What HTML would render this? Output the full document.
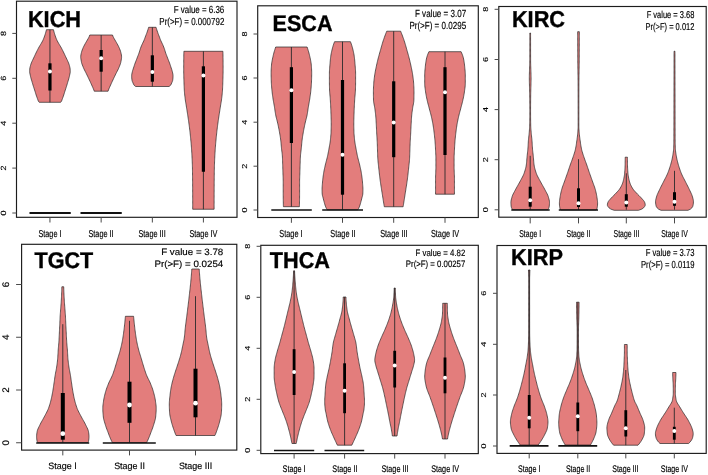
<!DOCTYPE html>
<html lang="en">
<head>
<meta charset="utf-8">
<title>Violin plots by tumor stage</title>
<style>
html,body{margin:0;padding:0;background:#fff;}
body{width:708px;height:475px;overflow:hidden;font-family:"Liberation Sans", Arial, Helvetica, sans-serif;}
svg{display:block;will-change:transform;}
svg text{text-rendering:geometricPrecision;}
</style>
</head>
<body>
<svg width="708" height="475" viewBox="0 0 708 475" font-family='"Liberation Sans", Arial, Helvetica, sans-serif'>
<rect width="708" height="475" fill="#fff"/>
<g>
<path d="M53.47 29.7 L53.75 30.93 L54.09 32.16 L54.45 33.39 L54.83 34.62 L55.23 35.85 L55.67 37.08 L56.14 38.31 L56.65 39.54 L57.22 40.77 L57.86 42.01 L58.57 43.24 L59.31 44.47 L60.06 45.7 L60.79 46.93 L61.47 48.16 L62.11 49.39 L62.74 50.62 L63.35 51.85 L63.95 53.08 L64.54 54.31 L65.11 55.54 L65.68 56.77 L66.27 58 L66.86 59.23 L67.46 60.46 L68.02 61.69 L68.54 62.92 L68.99 64.15 L69.36 65.38 L69.69 66.62 L69.98 67.85 L70.14 69.08 L70.21 70.31 L70.25 71.54 L70.17 72.77 L69.89 74 L69.63 75.23 L69.36 76.46 L69.06 77.69 L68.73 78.92 L68.37 80.15 L67.99 81.38 L67.62 82.61 L67.25 83.84 L66.89 85.07 L66.52 86.3 L66.13 87.53 L65.72 88.76 L65.31 89.99 L64.92 91.23 L64.54 92.46 L64.17 93.69 L63.78 94.92 L63.36 96.15 L62.92 97.38 L62.47 98.61 L62.03 99.84 L61.57 101.07 L60.65 102.3 L39.25 102.3 L38.33 101.07 L37.87 99.84 L37.43 98.61 L36.98 97.38 L36.54 96.15 L36.12 94.92 L35.73 93.69 L35.36 92.46 L34.98 91.23 L34.59 89.99 L34.18 88.76 L33.77 87.53 L33.38 86.3 L33.01 85.07 L32.65 83.84 L32.28 82.61 L31.91 81.38 L31.53 80.15 L31.17 78.92 L30.84 77.69 L30.54 76.46 L30.27 75.23 L30.01 74 L29.73 72.77 L29.65 71.54 L29.69 70.31 L29.76 69.08 L29.92 67.85 L30.21 66.62 L30.54 65.38 L30.91 64.15 L31.36 62.92 L31.88 61.69 L32.44 60.46 L33.04 59.23 L33.63 58 L34.22 56.77 L34.79 55.54 L35.36 54.31 L35.95 53.08 L36.55 51.85 L37.16 50.62 L37.79 49.39 L38.43 48.16 L39.11 46.93 L39.84 45.7 L40.59 44.47 L41.33 43.24 L42.04 42.01 L42.68 40.77 L43.25 39.54 L43.76 38.31 L44.23 37.08 L44.67 35.85 L45.07 34.62 L45.45 33.39 L45.81 32.16 L46.15 30.93 L46.44 29.7 Z" fill="#e37d7c" stroke="#262626" stroke-width="0.7" stroke-linejoin="round"/>
<line x1="49.95" y1="29.7" x2="49.95" y2="102.3" stroke="#2a2a2a" stroke-width="0.9"/>
<rect x="48.35" y="63.3" width="3.2" height="27.2" fill="#000"/>
<circle cx="49.95" cy="71.4" r="2" fill="#fff"/>
<line x1="29.5" y1="213" x2="70.75" y2="213" stroke="#111" stroke-width="1.9"/>
<path d="M112.5 35 L112.96 36.25 L113.57 37.5 L114.24 38.75 L114.96 40 L115.7 41.24 L116.43 42.49 L117.13 43.74 L117.81 44.99 L118.47 46.24 L119.06 47.49 L119.59 48.74 L120.09 49.99 L120.52 51.24 L120.85 52.48 L121.15 53.73 L121.4 54.98 L121.55 56.23 L121.57 57.48 L121.44 58.73 L121.22 59.98 L121.01 61.23 L120.77 62.48 L120.43 63.72 L119.97 64.97 L119.47 66.22 L118.97 67.47 L118.43 68.72 L117.83 69.97 L117.19 71.22 L116.54 72.47 L115.91 73.72 L115.31 74.96 L114.71 76.21 L114.12 77.46 L113.52 78.71 L112.93 79.96 L112.34 81.21 L111.76 82.46 L111.2 83.71 L110.64 84.96 L110.09 86.2 L109.53 87.45 L108.99 88.7 L108.47 89.95 L108.08 91.2 L94.22 91.2 L93.83 89.95 L93.31 88.7 L92.77 87.45 L92.21 86.2 L91.66 84.96 L91.1 83.71 L90.54 82.46 L89.96 81.21 L89.37 79.96 L88.78 78.71 L88.18 77.46 L87.59 76.21 L86.99 74.96 L86.39 73.72 L85.76 72.47 L85.11 71.22 L84.47 69.97 L83.87 68.72 L83.33 67.47 L82.83 66.22 L82.33 64.97 L81.87 63.72 L81.53 62.48 L81.29 61.23 L81.08 59.98 L80.86 58.73 L80.73 57.48 L80.75 56.23 L80.9 54.98 L81.15 53.73 L81.45 52.48 L81.78 51.24 L82.21 49.99 L82.71 48.74 L83.24 47.49 L83.83 46.24 L84.49 44.99 L85.17 43.74 L85.87 42.49 L86.6 41.24 L87.34 40 L88.06 38.75 L88.73 37.5 L89.34 36.25 L89.8 35 Z" fill="#e37d7c" stroke="#262626" stroke-width="0.7" stroke-linejoin="round"/>
<line x1="101.15" y1="35" x2="101.15" y2="91.2" stroke="#2a2a2a" stroke-width="0.9"/>
<rect x="99.55" y="50" width="3.2" height="21.7" fill="#000"/>
<circle cx="101.15" cy="58.3" r="2" fill="#fff"/>
<line x1="80.5" y1="213" x2="121.75" y2="213" stroke="#111" stroke-width="1.9"/>
<path d="M156.05 27.3 L156.41 28.53 L156.8 29.77 L157.21 31 L157.63 32.23 L158.07 33.47 L158.55 34.7 L159.03 35.93 L159.5 37.17 L159.95 38.4 L160.42 39.63 L160.92 40.87 L161.5 42.1 L162.11 43.33 L162.7 44.57 L163.22 45.8 L163.72 47.03 L164.19 48.27 L164.62 49.5 L164.99 50.73 L165.35 51.97 L165.75 53.2 L166.23 54.43 L166.71 55.67 L167.17 56.9 L167.64 58.13 L168.11 59.37 L168.6 60.6 L169.09 61.83 L169.57 63.07 L170 64.3 L170.41 65.53 L170.81 66.77 L171.21 68 L171.63 69.23 L172.03 70.47 L172.35 71.7 L172.63 72.93 L172.89 74.17 L173.04 75.4 L173.04 76.63 L172.97 77.87 L172.85 79.1 L172.7 80.33 L172.31 81.57 L171.77 82.8 L171.25 84.03 L170.57 85.27 L169.05 86.5 L135.65 86.5 L134.13 85.27 L133.45 84.03 L132.93 82.8 L132.39 81.57 L132 80.33 L131.85 79.1 L131.73 77.87 L131.66 76.63 L131.66 75.4 L131.81 74.17 L132.07 72.93 L132.35 71.7 L132.67 70.47 L133.07 69.23 L133.49 68 L133.89 66.77 L134.29 65.53 L134.7 64.3 L135.13 63.07 L135.61 61.83 L136.1 60.6 L136.59 59.37 L137.06 58.13 L137.53 56.9 L137.99 55.67 L138.47 54.43 L138.95 53.2 L139.35 51.97 L139.71 50.73 L140.08 49.5 L140.51 48.27 L140.98 47.03 L141.48 45.8 L142 44.57 L142.59 43.33 L143.2 42.1 L143.78 40.87 L144.28 39.63 L144.75 38.4 L145.2 37.17 L145.67 35.93 L146.15 34.7 L146.63 33.47 L147.07 32.23 L147.49 31 L147.9 29.77 L148.29 28.53 L148.65 27.3 Z" fill="#e37d7c" stroke="#262626" stroke-width="0.7" stroke-linejoin="round"/>
<line x1="152.35" y1="27.3" x2="152.35" y2="86.5" stroke="#2a2a2a" stroke-width="0.9"/>
<rect x="150.75" y="55.3" width="3.2" height="26.4" fill="#000"/>
<circle cx="152.35" cy="72" r="2" fill="#fff"/>
<path d="M222.9 51.3 L222.94 52.52 L222.97 53.73 L222.99 54.94 L223.02 56.16 L223.03 57.38 L223.05 58.59 L223.06 59.8 L223.07 61.02 L223.08 62.23 L223.09 63.45 L223.09 64.66 L223.1 65.88 L223.1 67.09 L223.1 68.31 L223.1 69.52 L223.1 70.74 L223.09 71.95 L223.07 73.17 L223.05 74.38 L223.02 75.6 L222.99 76.81 L222.95 78.03 L222.92 79.24 L222.89 80.46 L222.85 81.67 L222.81 82.89 L222.77 84.1 L222.73 85.32 L222.67 86.53 L222.62 87.75 L222.56 88.96 L222.49 90.18 L222.41 91.39 L222.31 92.61 L222.2 93.82 L222.07 95.04 L221.94 96.25 L221.8 97.47 L221.65 98.68 L221.49 99.9 L221.31 101.11 L221.12 102.33 L220.92 103.54 L220.71 104.76 L220.51 105.97 L220.32 107.19 L220.13 108.4 L219.94 109.62 L219.75 110.83 L219.56 112.05 L219.37 113.26 L219.18 114.48 L219 115.69 L218.81 116.91 L218.63 118.12 L218.46 119.34 L218.28 120.55 L218.11 121.77 L217.94 122.98 L217.78 124.2 L217.62 125.41 L217.46 126.63 L217.31 127.84 L217.16 129.06 L217.01 130.27 L216.87 131.49 L216.74 132.7 L216.61 133.92 L216.48 135.13 L216.35 136.35 L216.23 137.56 L216.11 138.78 L216 140 L215.89 141.21 L215.78 142.42 L215.67 143.64 L215.57 144.85 L215.47 146.07 L215.37 147.28 L215.29 148.5 L215.2 149.71 L215.12 150.93 L215.05 152.14 L214.97 153.36 L214.91 154.57 L214.84 155.79 L214.79 157 L214.73 158.22 L214.67 159.44 L214.62 160.65 L214.57 161.86 L214.52 163.08 L214.47 164.29 L214.43 165.51 L214.4 166.72 L214.37 167.94 L214.35 169.15 L214.33 170.37 L214.31 171.58 L214.29 172.8 L214.28 174.01 L214.26 175.23 L214.25 176.44 L214.24 177.66 L214.22 178.88 L214.21 180.09 L214.2 181.31 L214.19 182.52 L214.18 183.73 L214.18 184.95 L214.17 186.16 L214.16 187.38 L214.16 188.59 L214.15 189.81 L214.15 191.02 L214.14 192.24 L214.14 193.45 L214.13 194.67 L214.13 195.88 L214.12 197.1 L214.12 198.31 L214.12 199.53 L214.11 200.75 L214.11 201.96 L214.11 203.17 L214.1 204.39 L214.1 205.6 L214.1 206.82 L214.1 208.03 L214.1 209.25 L192.7 209.25 L192.7 208.03 L192.7 206.82 L192.7 205.6 L192.7 204.39 L192.69 203.17 L192.69 201.96 L192.69 200.75 L192.68 199.53 L192.68 198.31 L192.68 197.1 L192.67 195.88 L192.67 194.67 L192.66 193.45 L192.66 192.24 L192.65 191.02 L192.65 189.81 L192.64 188.59 L192.64 187.38 L192.63 186.16 L192.62 184.95 L192.62 183.73 L192.61 182.52 L192.6 181.31 L192.59 180.09 L192.58 178.88 L192.56 177.66 L192.55 176.44 L192.54 175.23 L192.52 174.01 L192.51 172.8 L192.49 171.58 L192.47 170.37 L192.45 169.15 L192.43 167.94 L192.4 166.72 L192.37 165.51 L192.33 164.29 L192.28 163.08 L192.23 161.86 L192.18 160.65 L192.13 159.44 L192.07 158.22 L192.01 157 L191.96 155.79 L191.89 154.57 L191.83 153.36 L191.75 152.14 L191.68 150.93 L191.6 149.71 L191.51 148.5 L191.43 147.28 L191.33 146.07 L191.23 144.85 L191.13 143.64 L191.02 142.42 L190.91 141.21 L190.8 140 L190.69 138.78 L190.57 137.56 L190.45 136.35 L190.32 135.13 L190.19 133.92 L190.06 132.7 L189.93 131.49 L189.79 130.27 L189.64 129.06 L189.49 127.84 L189.34 126.63 L189.18 125.41 L189.02 124.2 L188.86 122.98 L188.69 121.77 L188.52 120.55 L188.34 119.34 L188.17 118.12 L187.99 116.91 L187.8 115.69 L187.62 114.48 L187.43 113.26 L187.24 112.05 L187.05 110.83 L186.86 109.62 L186.67 108.4 L186.48 107.19 L186.29 105.97 L186.09 104.76 L185.88 103.54 L185.68 102.33 L185.49 101.11 L185.31 99.9 L185.15 98.68 L185 97.47 L184.86 96.25 L184.73 95.04 L184.6 93.82 L184.49 92.61 L184.39 91.39 L184.31 90.18 L184.24 88.96 L184.18 87.75 L184.13 86.53 L184.07 85.32 L184.03 84.1 L183.99 82.89 L183.95 81.67 L183.91 80.46 L183.88 79.24 L183.85 78.03 L183.81 76.81 L183.78 75.6 L183.75 74.38 L183.73 73.17 L183.71 71.95 L183.7 70.74 L183.7 69.52 L183.7 68.31 L183.7 67.09 L183.7 65.88 L183.71 64.66 L183.71 63.45 L183.72 62.23 L183.73 61.02 L183.74 59.8 L183.75 58.59 L183.77 57.38 L183.78 56.16 L183.81 54.94 L183.83 53.73 L183.86 52.52 L183.9 51.3 Z" fill="#e37d7c" stroke="#262626" stroke-width="0.7" stroke-linejoin="round"/>
<line x1="203.4" y1="51.3" x2="203.4" y2="209.25" stroke="#2a2a2a" stroke-width="0.9"/>
<rect x="201.8" y="66.3" width="3.2" height="105.45" fill="#000"/>
<circle cx="203.4" cy="75.5" r="2" fill="#fff"/>
<rect x="16.5" y="1.2" width="220.5" height="216.1" fill="none" stroke="#1c1c1c" stroke-width="1.15"/>
<line x1="12.3" y1="33.4" x2="16.5" y2="33.4" stroke="#4a4a4a" stroke-width="1"/>
<text transform="translate(6 33.4) scale(0.84 1) rotate(-90)" text-anchor="middle" font-size="9" fill="#000" stroke="#000" stroke-width="0.16">8</text>
<line x1="12.3" y1="78.3" x2="16.5" y2="78.3" stroke="#4a4a4a" stroke-width="1"/>
<text transform="translate(6 78.3) scale(0.84 1) rotate(-90)" text-anchor="middle" font-size="9" fill="#000" stroke="#000" stroke-width="0.16">6</text>
<line x1="12.3" y1="123.2" x2="16.5" y2="123.2" stroke="#4a4a4a" stroke-width="1"/>
<text transform="translate(6 123.2) scale(0.84 1) rotate(-90)" text-anchor="middle" font-size="9" fill="#000" stroke="#000" stroke-width="0.16">4</text>
<line x1="12.3" y1="168.1" x2="16.5" y2="168.1" stroke="#4a4a4a" stroke-width="1"/>
<text transform="translate(6 168.1) scale(0.84 1) rotate(-90)" text-anchor="middle" font-size="9" fill="#000" stroke="#000" stroke-width="0.16">2</text>
<line x1="12.3" y1="213" x2="16.5" y2="213" stroke="#4a4a4a" stroke-width="1"/>
<text transform="translate(6 213) scale(0.84 1) rotate(-90)" text-anchor="middle" font-size="9" fill="#000" stroke="#000" stroke-width="0.16">0</text>
<line x1="49.95" y1="217.3" x2="49.95" y2="222.5" stroke="#4a4a4a" stroke-width="1"/>
<text transform="translate(49.95 236.9) scale(0.74 1)" text-anchor="middle" font-size="9.9" fill="#000" stroke="#000" stroke-width="0.16">Stage I</text>
<line x1="101.15" y1="217.3" x2="101.15" y2="222.5" stroke="#4a4a4a" stroke-width="1"/>
<text transform="translate(101 236.9) scale(0.74 1)" text-anchor="middle" font-size="9.9" fill="#000" stroke="#000" stroke-width="0.16">Stage II</text>
<line x1="152.35" y1="217.3" x2="152.35" y2="222.5" stroke="#4a4a4a" stroke-width="1"/>
<text transform="translate(152.05 236.9) scale(0.74 1)" text-anchor="middle" font-size="9.9" fill="#000" stroke="#000" stroke-width="0.16">Stage III</text>
<line x1="203.4" y1="217.3" x2="203.4" y2="222.5" stroke="#4a4a4a" stroke-width="1"/>
<text transform="translate(203.4 236.9) scale(0.74 1)" text-anchor="middle" font-size="9.9" fill="#000" stroke="#000" stroke-width="0.16">Stage IV</text>
<text transform="translate(27.9 26.7) scale(0.98 1.03)" font-size="22.2" font-weight="bold" fill="#000" stroke="#000" stroke-width="0.35">KICH</text>
<text transform="translate(224.3 12.7) scale(0.78 1)" text-anchor="end" font-size="10.2" fill="#000" stroke="#000" stroke-width="0.16">F value = 6.36</text>
<text transform="translate(224.3 24.9) scale(0.78 1)" text-anchor="end" font-size="10.2" fill="#000" stroke="#000" stroke-width="0.16">Pr(&gt;F) = 0.000792</text>
</g>
<g>
<path d="M307.1 47 L307.51 48.21 L307.9 49.42 L308.27 50.63 L308.63 51.84 L308.96 53.05 L309.28 54.26 L309.57 55.47 L309.85 56.68 L310.11 57.89 L310.37 59.1 L310.61 60.31 L310.84 61.52 L311.04 62.73 L311.2 63.94 L311.31 65.15 L311.4 66.36 L311.48 67.57 L311.56 68.78 L311.62 69.99 L311.67 71.2 L311.69 72.41 L311.7 73.62 L311.69 74.83 L311.67 76.04 L311.64 77.25 L311.61 78.46 L311.57 79.67 L311.53 80.88 L311.49 82.09 L311.43 83.3 L311.35 84.51 L311.27 85.72 L311.17 86.92 L311.07 88.13 L310.96 89.34 L310.85 90.55 L310.72 91.76 L310.58 92.97 L310.43 94.18 L310.26 95.39 L310.09 96.6 L309.92 97.81 L309.74 99.02 L309.54 100.23 L309.33 101.44 L309.12 102.65 L308.9 103.86 L308.68 105.07 L308.47 106.28 L308.27 107.49 L308.09 108.7 L307.91 109.91 L307.74 111.12 L307.55 112.33 L307.36 113.54 L307.15 114.75 L306.9 115.96 L306.63 117.17 L306.33 118.38 L306.02 119.59 L305.7 120.8 L305.4 122.01 L305.12 123.22 L304.85 124.43 L304.59 125.64 L304.34 126.85 L304.09 128.06 L303.85 129.27 L303.62 130.48 L303.4 131.69 L303.19 132.9 L302.98 134.11 L302.78 135.32 L302.58 136.53 L302.4 137.74 L302.23 138.95 L302.08 140.16 L301.95 141.37 L301.83 142.58 L301.71 143.79 L301.61 145 L301.5 146.21 L301.39 147.42 L301.27 148.63 L301.13 149.84 L300.98 151.05 L300.83 152.26 L300.69 153.47 L300.56 154.68 L300.45 155.89 L300.38 157.1 L300.32 158.31 L300.27 159.52 L300.23 160.73 L300.19 161.94 L300.16 163.15 L300.12 164.36 L300.08 165.57 L300.04 166.77 L300.01 167.98 L299.97 169.19 L299.94 170.4 L299.9 171.61 L299.86 172.82 L299.83 174.03 L299.78 175.24 L299.73 176.45 L299.69 177.66 L299.65 178.87 L299.62 180.08 L299.6 181.29 L299.6 182.5 L299.6 183.71 L299.6 184.92 L299.6 186.13 L299.6 187.34 L299.6 188.55 L299.6 189.76 L299.6 190.97 L299.6 192.18 L299.6 193.39 L299.6 194.6 L299.59 195.81 L299.58 197.02 L299.57 198.23 L299.55 199.44 L299.53 200.65 L299.51 201.86 L299.48 203.07 L299.46 204.28 L299.43 205.49 L299.4 206.7 L283.4 206.7 L283.37 205.49 L283.34 204.28 L283.32 203.07 L283.29 201.86 L283.27 200.65 L283.25 199.44 L283.23 198.23 L283.22 197.02 L283.21 195.81 L283.2 194.6 L283.2 193.39 L283.2 192.18 L283.2 190.97 L283.2 189.76 L283.2 188.55 L283.2 187.34 L283.2 186.13 L283.2 184.92 L283.2 183.71 L283.2 182.5 L283.2 181.29 L283.18 180.08 L283.15 178.87 L283.11 177.66 L283.07 176.45 L283.02 175.24 L282.97 174.03 L282.94 172.82 L282.9 171.61 L282.86 170.4 L282.83 169.19 L282.79 167.98 L282.76 166.77 L282.72 165.57 L282.68 164.36 L282.64 163.15 L282.61 161.94 L282.57 160.73 L282.53 159.52 L282.48 158.31 L282.42 157.1 L282.35 155.89 L282.24 154.68 L282.11 153.47 L281.97 152.26 L281.82 151.05 L281.67 149.84 L281.53 148.63 L281.41 147.42 L281.3 146.21 L281.19 145 L281.09 143.79 L280.97 142.58 L280.85 141.37 L280.72 140.16 L280.57 138.95 L280.4 137.74 L280.22 136.53 L280.02 135.32 L279.82 134.11 L279.61 132.9 L279.4 131.69 L279.18 130.48 L278.95 129.27 L278.71 128.06 L278.46 126.85 L278.21 125.64 L277.95 124.43 L277.68 123.22 L277.4 122.01 L277.1 120.8 L276.78 119.59 L276.47 118.38 L276.17 117.17 L275.9 115.96 L275.65 114.75 L275.44 113.54 L275.25 112.33 L275.06 111.12 L274.89 109.91 L274.71 108.7 L274.53 107.49 L274.33 106.28 L274.12 105.07 L273.9 103.86 L273.68 102.65 L273.47 101.44 L273.26 100.23 L273.06 99.02 L272.88 97.81 L272.71 96.6 L272.54 95.39 L272.37 94.18 L272.22 92.97 L272.08 91.76 L271.95 90.55 L271.84 89.34 L271.73 88.13 L271.63 86.92 L271.53 85.72 L271.45 84.51 L271.37 83.3 L271.31 82.09 L271.27 80.88 L271.23 79.67 L271.19 78.46 L271.16 77.25 L271.13 76.04 L271.11 74.83 L271.1 73.62 L271.11 72.41 L271.13 71.2 L271.18 69.99 L271.24 68.78 L271.32 67.57 L271.4 66.36 L271.49 65.15 L271.6 63.94 L271.76 62.73 L271.96 61.52 L272.19 60.31 L272.43 59.1 L272.69 57.89 L272.95 56.68 L273.23 55.47 L273.52 54.26 L273.84 53.05 L274.17 51.84 L274.53 50.63 L274.9 49.42 L275.29 48.21 L275.7 47 Z" fill="#e37d7c" stroke="#262626" stroke-width="0.7" stroke-linejoin="round"/>
<line x1="291.4" y1="47" x2="291.4" y2="206.7" stroke="#2a2a2a" stroke-width="0.9"/>
<rect x="289.8" y="67.2" width="3.2" height="75.8" fill="#000"/>
<circle cx="291.4" cy="90.3" r="2" fill="#fff"/>
<line x1="271.3" y1="210" x2="311.8" y2="210" stroke="#111" stroke-width="1.7"/>
<path d="M350.45 41.7 L350.9 42.91 L351.33 44.12 L351.74 45.33 L352.11 46.54 L352.46 47.75 L352.76 48.96 L353.06 50.17 L353.33 51.37 L353.6 52.58 L353.83 53.79 L354.05 55 L354.23 56.21 L354.39 57.42 L354.53 58.63 L354.66 59.84 L354.78 61.05 L354.88 62.26 L354.98 63.47 L355.08 64.68 L355.17 65.89 L355.27 67.1 L355.36 68.31 L355.45 69.52 L355.53 70.72 L355.58 71.93 L355.6 73.14 L355.6 74.35 L355.6 75.56 L355.6 76.77 L355.6 77.98 L355.6 79.19 L355.6 80.4 L355.6 81.61 L355.6 82.82 L355.59 84.03 L355.57 85.24 L355.54 86.45 L355.51 87.66 L355.48 88.86 L355.45 90.07 L355.39 91.28 L355.31 92.49 L355.21 93.7 L355.09 94.91 L354.98 96.12 L354.87 97.33 L354.78 98.54 L354.7 99.75 L354.62 100.96 L354.55 102.17 L354.47 103.38 L354.41 104.59 L354.34 105.8 L354.29 107.01 L354.23 108.21 L354.19 109.42 L354.14 110.63 L354.1 111.84 L354.06 113.05 L354.02 114.26 L353.99 115.47 L353.95 116.68 L353.91 117.89 L353.87 119.1 L353.84 120.31 L353.82 121.52 L353.8 122.73 L353.8 123.94 L353.81 125.15 L353.82 126.35 L353.85 127.56 L353.87 128.77 L353.9 129.98 L353.94 131.19 L353.97 132.4 L354.03 133.61 L354.11 134.82 L354.21 136.03 L354.32 137.24 L354.44 138.45 L354.56 139.66 L354.7 140.87 L354.87 142.08 L355.05 143.29 L355.26 144.49 L355.48 145.7 L355.7 146.91 L355.92 148.12 L356.14 149.33 L356.36 150.54 L356.59 151.75 L356.82 152.96 L357.06 154.17 L357.31 155.38 L357.58 156.59 L357.85 157.8 L358.16 159.01 L358.48 160.22 L358.8 161.43 L359.12 162.64 L359.43 163.84 L359.71 165.05 L359.99 166.26 L360.26 167.47 L360.52 168.68 L360.78 169.89 L361.02 171.1 L361.24 172.31 L361.43 173.52 L361.62 174.73 L361.79 175.94 L361.96 177.15 L362.11 178.36 L362.25 179.57 L362.37 180.78 L362.47 181.98 L362.57 183.19 L362.67 184.4 L362.77 185.61 L362.85 186.82 L362.91 188.03 L362.94 189.24 L362.95 190.45 L362.92 191.66 L362.87 192.87 L362.79 194.08 L362.61 195.29 L362.3 196.5 L361.96 197.71 L361.65 198.92 L361.35 200.13 L361.04 201.33 L360.71 202.54 L360.37 203.75 L360.01 204.96 L359.62 206.17 L359.14 207.38 L358.52 208.59 L357.8 209.8 L327.2 209.8 L326.48 208.59 L325.86 207.38 L325.38 206.17 L324.99 204.96 L324.63 203.75 L324.29 202.54 L323.96 201.33 L323.65 200.13 L323.35 198.92 L323.04 197.71 L322.7 196.5 L322.39 195.29 L322.21 194.08 L322.13 192.87 L322.08 191.66 L322.05 190.45 L322.06 189.24 L322.09 188.03 L322.15 186.82 L322.23 185.61 L322.33 184.4 L322.43 183.19 L322.53 181.98 L322.63 180.78 L322.75 179.57 L322.89 178.36 L323.04 177.15 L323.21 175.94 L323.38 174.73 L323.57 173.52 L323.76 172.31 L323.98 171.1 L324.22 169.89 L324.48 168.68 L324.74 167.47 L325.01 166.26 L325.29 165.05 L325.57 163.84 L325.88 162.64 L326.2 161.43 L326.52 160.22 L326.84 159.01 L327.15 157.8 L327.42 156.59 L327.69 155.38 L327.94 154.17 L328.18 152.96 L328.41 151.75 L328.64 150.54 L328.86 149.33 L329.08 148.12 L329.3 146.91 L329.52 145.7 L329.74 144.49 L329.95 143.29 L330.13 142.08 L330.3 140.87 L330.44 139.66 L330.56 138.45 L330.68 137.24 L330.79 136.03 L330.89 134.82 L330.97 133.61 L331.03 132.4 L331.06 131.19 L331.1 129.98 L331.13 128.77 L331.15 127.56 L331.18 126.35 L331.19 125.15 L331.2 123.94 L331.2 122.73 L331.18 121.52 L331.16 120.31 L331.13 119.1 L331.09 117.89 L331.05 116.68 L331.01 115.47 L330.98 114.26 L330.94 113.05 L330.9 111.84 L330.86 110.63 L330.81 109.42 L330.77 108.21 L330.71 107.01 L330.66 105.8 L330.59 104.59 L330.53 103.38 L330.45 102.17 L330.38 100.96 L330.3 99.75 L330.22 98.54 L330.13 97.33 L330.02 96.12 L329.91 94.91 L329.79 93.7 L329.69 92.49 L329.61 91.28 L329.55 90.07 L329.52 88.86 L329.49 87.66 L329.46 86.45 L329.43 85.24 L329.41 84.03 L329.4 82.82 L329.4 81.61 L329.4 80.4 L329.4 79.19 L329.4 77.98 L329.4 76.77 L329.4 75.56 L329.4 74.35 L329.4 73.14 L329.42 71.93 L329.47 70.72 L329.55 69.52 L329.64 68.31 L329.73 67.1 L329.83 65.89 L329.92 64.68 L330.02 63.47 L330.12 62.26 L330.22 61.05 L330.34 59.84 L330.47 58.63 L330.61 57.42 L330.77 56.21 L330.95 55 L331.17 53.79 L331.4 52.58 L331.67 51.37 L331.94 50.17 L332.24 48.96 L332.54 47.75 L332.89 46.54 L333.26 45.33 L333.67 44.12 L334.1 42.91 L334.55 41.7 Z" fill="#e37d7c" stroke="#262626" stroke-width="0.7" stroke-linejoin="round"/>
<line x1="342.5" y1="41.7" x2="342.5" y2="209.8" stroke="#2a2a2a" stroke-width="0.9"/>
<rect x="340.9" y="80" width="3.2" height="114.7" fill="#000"/>
<circle cx="342.5" cy="154.7" r="2" fill="#fff"/>
<line x1="322.2" y1="210" x2="363" y2="210" stroke="#111" stroke-width="1.7"/>
<path d="M400.65 31.2 L401.14 32.41 L401.62 33.62 L402.09 34.83 L402.54 36.04 L402.98 37.25 L403.41 38.46 L403.83 39.67 L404.23 40.89 L404.63 42.1 L405 43.31 L405.36 44.52 L405.71 45.73 L406.05 46.94 L406.38 48.15 L406.72 49.36 L407.06 50.57 L407.41 51.78 L407.75 52.99 L408.1 54.2 L408.43 55.41 L408.76 56.62 L409.08 57.84 L409.39 59.05 L409.69 60.26 L409.98 61.47 L410.26 62.68 L410.54 63.89 L410.81 65.1 L411.07 66.31 L411.32 67.52 L411.57 68.73 L411.81 69.94 L412.05 71.15 L412.27 72.36 L412.48 73.57 L412.67 74.78 L412.84 76 L413.01 77.21 L413.17 78.42 L413.32 79.63 L413.45 80.84 L413.56 82.05 L413.65 83.26 L413.72 84.47 L413.79 85.68 L413.86 86.89 L413.92 88.1 L413.96 89.31 L413.99 90.52 L414 91.73 L414 92.95 L413.99 94.16 L413.98 95.37 L413.96 96.58 L413.94 97.79 L413.92 99 L413.89 100.21 L413.8 101.42 L413.64 102.63 L413.43 103.84 L413.19 105.05 L412.95 106.26 L412.73 107.47 L412.55 108.68 L412.38 109.89 L412.22 111.11 L412.06 112.32 L411.92 113.53 L411.78 114.74 L411.66 115.95 L411.56 117.16 L411.48 118.37 L411.4 119.58 L411.33 120.79 L411.26 122 L411.19 123.21 L411.13 124.42 L411.07 125.63 L411.01 126.84 L410.95 128.06 L410.89 129.27 L410.84 130.48 L410.78 131.69 L410.72 132.9 L410.65 134.11 L410.58 135.32 L410.5 136.53 L410.43 137.74 L410.35 138.95 L410.28 140.16 L410.22 141.37 L410.16 142.58 L410.11 143.79 L410.07 145 L410.03 146.22 L409.99 147.43 L409.95 148.64 L409.91 149.85 L409.86 151.06 L409.83 152.27 L409.79 153.48 L409.75 154.69 L409.71 155.9 L409.66 157.11 L409.6 158.32 L409.52 159.53 L409.42 160.74 L409.31 161.95 L409.18 163.17 L409.05 164.38 L408.92 165.59 L408.79 166.8 L408.66 168.01 L408.54 169.22 L408.41 170.43 L408.27 171.64 L408.14 172.85 L408 174.06 L407.86 175.27 L407.72 176.48 L407.57 177.69 L407.41 178.9 L407.25 180.11 L407.09 181.33 L406.91 182.54 L406.74 183.75 L406.55 184.96 L406.37 186.17 L406.18 187.38 L405.99 188.59 L405.8 189.8 L405.61 191.01 L405.42 192.22 L405.23 193.43 L405.04 194.64 L404.85 195.85 L404.66 197.06 L404.47 198.28 L404.28 199.49 L404.09 200.7 L403.89 201.91 L403.69 203.12 L403.5 204.33 L403.3 205.54 L403.1 206.75 L384.3 206.75 L384.1 205.54 L383.9 204.33 L383.71 203.12 L383.51 201.91 L383.31 200.7 L383.12 199.49 L382.93 198.28 L382.74 197.06 L382.55 195.85 L382.36 194.64 L382.17 193.43 L381.98 192.22 L381.79 191.01 L381.6 189.8 L381.41 188.59 L381.22 187.38 L381.03 186.17 L380.85 184.96 L380.66 183.75 L380.49 182.54 L380.31 181.33 L380.15 180.11 L379.99 178.9 L379.83 177.69 L379.68 176.48 L379.54 175.27 L379.4 174.06 L379.26 172.85 L379.13 171.64 L378.99 170.43 L378.86 169.22 L378.74 168.01 L378.61 166.8 L378.48 165.59 L378.35 164.38 L378.22 163.17 L378.09 161.95 L377.98 160.74 L377.88 159.53 L377.8 158.32 L377.74 157.11 L377.69 155.9 L377.65 154.69 L377.61 153.48 L377.57 152.27 L377.54 151.06 L377.49 149.85 L377.45 148.64 L377.41 147.43 L377.37 146.22 L377.33 145 L377.29 143.79 L377.24 142.58 L377.18 141.37 L377.12 140.16 L377.05 138.95 L376.97 137.74 L376.9 136.53 L376.82 135.32 L376.75 134.11 L376.68 132.9 L376.62 131.69 L376.56 130.48 L376.51 129.27 L376.45 128.06 L376.39 126.84 L376.33 125.63 L376.27 124.42 L376.21 123.21 L376.14 122 L376.07 120.79 L376 119.58 L375.92 118.37 L375.84 117.16 L375.74 115.95 L375.62 114.74 L375.48 113.53 L375.34 112.32 L375.18 111.11 L375.02 109.89 L374.85 108.68 L374.67 107.47 L374.45 106.26 L374.21 105.05 L373.97 103.84 L373.76 102.63 L373.6 101.42 L373.51 100.21 L373.48 99 L373.46 97.79 L373.44 96.58 L373.42 95.37 L373.41 94.16 L373.4 92.95 L373.4 91.73 L373.41 90.52 L373.44 89.31 L373.48 88.1 L373.54 86.89 L373.61 85.68 L373.68 84.47 L373.75 83.26 L373.84 82.05 L373.95 80.84 L374.08 79.63 L374.23 78.42 L374.39 77.21 L374.56 76 L374.73 74.78 L374.92 73.57 L375.13 72.36 L375.35 71.15 L375.59 69.94 L375.83 68.73 L376.08 67.52 L376.33 66.31 L376.59 65.1 L376.86 63.89 L377.14 62.68 L377.42 61.47 L377.71 60.26 L378.01 59.05 L378.32 57.84 L378.64 56.62 L378.97 55.41 L379.3 54.2 L379.65 52.99 L379.99 51.78 L380.34 50.57 L380.68 49.36 L381.02 48.15 L381.35 46.94 L381.69 45.73 L382.04 44.52 L382.4 43.31 L382.77 42.1 L383.17 40.89 L383.57 39.67 L383.99 38.46 L384.42 37.25 L384.86 36.04 L385.31 34.83 L385.78 33.62 L386.26 32.41 L386.75 31.2 Z" fill="#e37d7c" stroke="#262626" stroke-width="0.7" stroke-linejoin="round"/>
<line x1="393.7" y1="31.2" x2="393.7" y2="206.75" stroke="#2a2a2a" stroke-width="0.9"/>
<rect x="392.1" y="81.3" width="3.2" height="75.9" fill="#000"/>
<circle cx="393.7" cy="122.5" r="2" fill="#fff"/>
<path d="M461.1 51.7 L461.63 52.92 L462.14 54.14 L462.6 55.35 L463 56.57 L463.33 57.79 L463.6 59.01 L463.83 60.23 L464.04 61.44 L464.22 62.66 L464.39 63.88 L464.53 65.1 L464.66 66.32 L464.78 67.53 L464.9 68.75 L465.02 69.97 L465.13 71.19 L465.21 72.41 L465.27 73.62 L465.3 74.84 L465.3 76.06 L465.3 77.28 L465.3 78.49 L465.3 79.71 L465.3 80.93 L465.3 82.15 L465.3 83.37 L465.27 84.58 L465.19 85.8 L465.07 87.02 L464.92 88.24 L464.76 89.46 L464.59 90.67 L464.42 91.89 L464.25 93.11 L464.04 94.33 L463.82 95.55 L463.58 96.76 L463.33 97.98 L463.07 99.2 L462.81 100.42 L462.53 101.64 L462.23 102.85 L461.91 104.07 L461.59 105.29 L461.27 106.51 L460.95 107.73 L460.63 108.94 L460.31 110.16 L459.97 111.38 L459.64 112.6 L459.31 113.82 L459 115.03 L458.7 116.25 L458.43 117.47 L458.16 118.69 L457.9 119.91 L457.66 121.12 L457.42 122.34 L457.2 123.56 L456.99 124.78 L456.79 125.99 L456.6 127.21 L456.43 128.43 L456.26 129.65 L456.1 130.87 L455.95 132.08 L455.8 133.3 L455.66 134.52 L455.52 135.74 L455.39 136.96 L455.26 138.17 L455.15 139.39 L455.04 140.61 L454.94 141.83 L454.85 143.05 L454.77 144.26 L454.7 145.48 L454.62 146.7 L454.56 147.92 L454.49 149.14 L454.43 150.35 L454.37 151.57 L454.3 152.79 L454.23 154.01 L454.17 155.23 L454.13 156.44 L454.1 157.66 L454.1 158.88 L454.1 160.1 L454.1 161.32 L454.1 162.53 L454.1 163.75 L454.1 164.97 L454.1 166.19 L454.1 167.41 L454.12 168.62 L454.16 169.84 L454.2 171.06 L454.25 172.28 L454.3 173.49 L454.35 174.71 L454.4 175.93 L454.43 177.15 L454.45 178.37 L454.45 179.58 L454.45 180.8 L454.45 182.02 L454.45 183.24 L454.45 184.46 L454.45 185.67 L454.45 186.89 L454.45 188.11 L454.45 189.33 L454.45 190.55 L454.45 191.76 L454.45 192.98 L454.45 194.2 L435.55 194.2 L435.55 192.98 L435.55 191.76 L435.55 190.55 L435.55 189.33 L435.55 188.11 L435.55 186.89 L435.55 185.67 L435.55 184.46 L435.55 183.24 L435.55 182.02 L435.55 180.8 L435.55 179.58 L435.55 178.37 L435.57 177.15 L435.6 175.93 L435.65 174.71 L435.7 173.49 L435.75 172.28 L435.8 171.06 L435.84 169.84 L435.88 168.62 L435.9 167.41 L435.9 166.19 L435.9 164.97 L435.9 163.75 L435.9 162.53 L435.9 161.32 L435.9 160.1 L435.9 158.88 L435.9 157.66 L435.87 156.44 L435.83 155.23 L435.77 154.01 L435.7 152.79 L435.63 151.57 L435.57 150.35 L435.51 149.14 L435.44 147.92 L435.38 146.7 L435.3 145.48 L435.23 144.26 L435.15 143.05 L435.06 141.83 L434.96 140.61 L434.85 139.39 L434.74 138.17 L434.61 136.96 L434.48 135.74 L434.34 134.52 L434.2 133.3 L434.05 132.08 L433.9 130.87 L433.74 129.65 L433.57 128.43 L433.4 127.21 L433.21 125.99 L433.01 124.78 L432.8 123.56 L432.58 122.34 L432.34 121.12 L432.1 119.91 L431.84 118.69 L431.57 117.47 L431.3 116.25 L431 115.03 L430.69 113.82 L430.36 112.6 L430.03 111.38 L429.69 110.16 L429.37 108.94 L429.05 107.73 L428.73 106.51 L428.41 105.29 L428.09 104.07 L427.77 102.85 L427.47 101.64 L427.19 100.42 L426.93 99.2 L426.67 97.98 L426.42 96.76 L426.18 95.55 L425.96 94.33 L425.75 93.11 L425.58 91.89 L425.41 90.67 L425.24 89.46 L425.08 88.24 L424.93 87.02 L424.81 85.8 L424.73 84.58 L424.7 83.37 L424.7 82.15 L424.7 80.93 L424.7 79.71 L424.7 78.49 L424.7 77.28 L424.7 76.06 L424.7 74.84 L424.73 73.62 L424.79 72.41 L424.87 71.19 L424.98 69.97 L425.1 68.75 L425.22 67.53 L425.34 66.32 L425.47 65.1 L425.61 63.88 L425.78 62.66 L425.96 61.44 L426.17 60.23 L426.4 59.01 L426.67 57.79 L427 56.57 L427.4 55.35 L427.86 54.14 L428.37 52.92 L428.9 51.7 Z" fill="#e37d7c" stroke="#262626" stroke-width="0.7" stroke-linejoin="round"/>
<line x1="445" y1="51.7" x2="445" y2="194.2" stroke="#2a2a2a" stroke-width="0.9"/>
<rect x="443.4" y="67.2" width="3.2" height="87.8" fill="#000"/>
<circle cx="445" cy="92.2" r="2" fill="#fff"/>
<rect x="257.7" y="5.8" width="220.6" height="211.7" fill="none" stroke="#1c1c1c" stroke-width="1.15"/>
<line x1="253.5" y1="34" x2="257.7" y2="34" stroke="#4a4a4a" stroke-width="1"/>
<text transform="translate(247.3 34) scale(0.8 1) rotate(-90)" text-anchor="middle" font-size="9" fill="#000" stroke="#000" stroke-width="0.16">8</text>
<line x1="253.5" y1="78" x2="257.7" y2="78" stroke="#4a4a4a" stroke-width="1"/>
<text transform="translate(247.3 78) scale(0.8 1) rotate(-90)" text-anchor="middle" font-size="9" fill="#000" stroke="#000" stroke-width="0.16">6</text>
<line x1="253.5" y1="122.2" x2="257.7" y2="122.2" stroke="#4a4a4a" stroke-width="1"/>
<text transform="translate(247.3 122.2) scale(0.8 1) rotate(-90)" text-anchor="middle" font-size="9" fill="#000" stroke="#000" stroke-width="0.16">4</text>
<line x1="253.5" y1="166.2" x2="257.7" y2="166.2" stroke="#4a4a4a" stroke-width="1"/>
<text transform="translate(247.3 166.2) scale(0.8 1) rotate(-90)" text-anchor="middle" font-size="9" fill="#000" stroke="#000" stroke-width="0.16">2</text>
<line x1="253.5" y1="210" x2="257.7" y2="210" stroke="#4a4a4a" stroke-width="1"/>
<text transform="translate(247.3 210) scale(0.8 1) rotate(-90)" text-anchor="middle" font-size="9" fill="#000" stroke="#000" stroke-width="0.16">0</text>
<line x1="291.4" y1="217.5" x2="291.4" y2="222.8" stroke="#4a4a4a" stroke-width="1"/>
<text transform="translate(290.95 237) scale(0.72 1)" text-anchor="middle" font-size="10.2" fill="#000" stroke="#000" stroke-width="0.16">Stage I</text>
<line x1="342.5" y1="217.5" x2="342.5" y2="222.8" stroke="#4a4a4a" stroke-width="1"/>
<text transform="translate(342.95 237) scale(0.72 1)" text-anchor="middle" font-size="10.2" fill="#000" stroke="#000" stroke-width="0.16">Stage II</text>
<line x1="393.7" y1="217.5" x2="393.7" y2="222.8" stroke="#4a4a4a" stroke-width="1"/>
<text transform="translate(393.85 237) scale(0.72 1)" text-anchor="middle" font-size="10.2" fill="#000" stroke="#000" stroke-width="0.16">Stage III</text>
<line x1="445" y1="217.5" x2="445" y2="222.8" stroke="#4a4a4a" stroke-width="1"/>
<text transform="translate(445 237) scale(0.72 1)" text-anchor="middle" font-size="10.2" fill="#000" stroke="#000" stroke-width="0.16">Stage IV</text>
<text transform="translate(272.6 31.2) scale(0.98 1.03)" font-size="22" font-weight="bold" fill="#000" stroke="#000" stroke-width="0.35">ESCA</text>
<text transform="translate(466.1 16.7) scale(0.78 1)" text-anchor="end" font-size="10.3" fill="#000" stroke="#000" stroke-width="0.16">F value = 3.07</text>
<text transform="translate(466.1 28.7) scale(0.78 1)" text-anchor="end" font-size="10.3" fill="#000" stroke="#000" stroke-width="0.16">Pr(&gt;F) = 0.0295</text>
</g>
<g>
<path d="M530.57 33 L530.57 34.21 L530.57 35.42 L530.57 36.63 L530.57 37.84 L530.57 39.05 L530.57 40.26 L530.57 41.47 L530.58 42.68 L530.58 43.89 L530.58 45.1 L530.58 46.31 L530.58 47.52 L530.59 48.73 L530.59 49.94 L530.59 51.15 L530.59 52.36 L530.6 53.57 L530.6 54.78 L530.6 56 L530.61 57.21 L530.61 58.42 L530.61 59.63 L530.62 60.84 L530.64 62.05 L530.66 63.26 L530.7 64.47 L530.73 65.68 L530.78 66.89 L530.82 68.1 L530.87 69.31 L530.91 70.52 L530.95 71.73 L530.99 72.94 L531.03 74.15 L531.05 75.36 L531.07 76.57 L531.08 77.78 L531.08 78.99 L531.06 80.2 L531.05 81.41 L531.02 82.62 L530.99 83.83 L530.96 85.04 L530.93 86.25 L530.89 87.46 L530.85 88.67 L530.82 89.88 L530.79 91.09 L530.76 92.3 L530.73 93.51 L530.71 94.72 L530.7 95.93 L530.68 97.14 L530.67 98.35 L530.65 99.57 L530.64 100.78 L530.63 101.99 L530.62 103.2 L530.6 104.41 L530.59 105.62 L530.59 106.83 L530.58 108.04 L530.57 109.25 L530.57 110.46 L530.57 111.67 L530.57 112.88 L530.58 114.09 L530.58 115.3 L530.59 116.51 L530.6 117.72 L530.61 118.93 L530.63 120.14 L530.65 121.35 L530.67 122.56 L530.69 123.77 L530.71 124.98 L530.74 126.19 L530.8 127.4 L530.87 128.61 L530.96 129.82 L531.06 131.03 L531.16 132.24 L531.26 133.45 L531.37 134.66 L531.5 135.87 L531.65 137.08 L531.79 138.29 L531.91 139.5 L532.01 140.71 L532.09 141.92 L532.16 143.13 L532.23 144.35 L532.29 145.56 L532.36 146.77 L532.44 147.98 L532.53 149.19 L532.64 150.4 L532.77 151.61 L532.91 152.82 L533.05 154.03 L533.19 155.24 L533.32 156.45 L533.43 157.66 L533.53 158.87 L533.62 160.08 L533.71 161.29 L533.82 162.5 L533.94 163.71 L534.09 164.92 L534.28 166.13 L534.53 167.34 L534.83 168.55 L535.16 169.76 L535.53 170.97 L535.92 172.18 L536.33 173.39 L536.8 174.6 L537.35 175.81 L537.96 177.02 L538.61 178.23 L539.27 179.44 L539.94 180.65 L540.59 181.86 L541.24 183.07 L541.92 184.28 L542.61 185.49 L543.3 186.7 L543.98 187.92 L544.64 189.13 L545.27 190.34 L545.92 191.55 L546.58 192.76 L547.2 193.97 L547.76 195.18 L548.21 196.39 L548.56 197.6 L548.9 198.81 L549.2 200.02 L549.41 201.23 L549.5 202.44 L549.47 203.65 L549.4 204.86 L549.28 206.07 L549.08 207.28 L548.58 208.49 L547.9 209.7 L512.5 209.7 L511.82 208.49 L511.32 207.28 L511.12 206.07 L511 204.86 L510.93 203.65 L510.9 202.44 L510.99 201.23 L511.2 200.02 L511.5 198.81 L511.84 197.6 L512.19 196.39 L512.64 195.18 L513.2 193.97 L513.82 192.76 L514.48 191.55 L515.13 190.34 L515.76 189.13 L516.42 187.92 L517.1 186.7 L517.79 185.49 L518.48 184.28 L519.16 183.07 L519.81 181.86 L520.46 180.65 L521.13 179.44 L521.79 178.23 L522.44 177.02 L523.05 175.81 L523.6 174.6 L524.07 173.39 L524.48 172.18 L524.87 170.97 L525.24 169.76 L525.57 168.55 L525.87 167.34 L526.12 166.13 L526.31 164.92 L526.46 163.71 L526.58 162.5 L526.69 161.29 L526.78 160.08 L526.87 158.87 L526.97 157.66 L527.08 156.45 L527.21 155.24 L527.35 154.03 L527.49 152.82 L527.63 151.61 L527.76 150.4 L527.87 149.19 L527.96 147.98 L528.04 146.77 L528.11 145.56 L528.17 144.35 L528.24 143.13 L528.31 141.92 L528.39 140.71 L528.49 139.5 L528.61 138.29 L528.75 137.08 L528.9 135.87 L529.03 134.66 L529.14 133.45 L529.24 132.24 L529.34 131.03 L529.44 129.82 L529.53 128.61 L529.6 127.4 L529.66 126.19 L529.69 124.98 L529.71 123.77 L529.73 122.56 L529.75 121.35 L529.77 120.14 L529.79 118.93 L529.8 117.72 L529.81 116.51 L529.82 115.3 L529.82 114.09 L529.83 112.88 L529.83 111.67 L529.83 110.46 L529.83 109.25 L529.82 108.04 L529.81 106.83 L529.81 105.62 L529.8 104.41 L529.78 103.2 L529.77 101.99 L529.76 100.78 L529.75 99.57 L529.73 98.35 L529.72 97.14 L529.7 95.93 L529.69 94.72 L529.67 93.51 L529.64 92.3 L529.61 91.09 L529.58 89.88 L529.55 88.67 L529.51 87.46 L529.47 86.25 L529.44 85.04 L529.41 83.83 L529.38 82.62 L529.35 81.41 L529.34 80.2 L529.32 78.99 L529.32 77.78 L529.33 76.57 L529.35 75.36 L529.37 74.15 L529.41 72.94 L529.45 71.73 L529.49 70.52 L529.53 69.31 L529.58 68.1 L529.62 66.89 L529.67 65.68 L529.7 64.47 L529.74 63.26 L529.76 62.05 L529.78 60.84 L529.79 59.63 L529.79 58.42 L529.79 57.21 L529.8 56 L529.8 54.78 L529.8 53.57 L529.81 52.36 L529.81 51.15 L529.81 49.94 L529.81 48.73 L529.82 47.52 L529.82 46.31 L529.82 45.1 L529.82 43.89 L529.82 42.68 L529.83 41.47 L529.83 40.26 L529.83 39.05 L529.83 37.84 L529.83 36.63 L529.83 35.42 L529.83 34.21 L529.83 33 Z" fill="#e37d7c" stroke="#262626" stroke-width="0.7" stroke-linejoin="round"/>
<line x1="530.2" y1="155.8" x2="530.2" y2="210" stroke="#2a2a2a" stroke-width="0.9"/>
<rect x="528.7" y="186.7" width="3" height="20" fill="#000"/>
<circle cx="530.2" cy="200.3" r="2" fill="#fff"/>
<line x1="511.3" y1="210" x2="549.7" y2="210" stroke="#111" stroke-width="1.7"/>
<path d="M579.33 31.7 L579.33 32.91 L579.33 34.13 L579.33 35.34 L579.33 36.55 L579.33 37.76 L579.32 38.98 L579.32 40.19 L579.32 41.4 L579.32 42.62 L579.31 43.83 L579.31 45.04 L579.3 46.26 L579.3 47.47 L579.29 48.68 L579.29 49.89 L579.28 51.11 L579.28 52.32 L579.27 53.53 L579.27 54.75 L579.26 55.96 L579.25 57.17 L579.25 58.38 L579.24 59.6 L579.24 60.81 L579.23 62.02 L579.21 63.24 L579.2 64.45 L579.18 65.66 L579.16 66.87 L579.14 68.09 L579.12 69.3 L579.1 70.51 L579.08 71.73 L579.06 72.94 L579.04 74.15 L579.02 75.37 L579 76.58 L578.98 77.79 L578.97 79 L578.95 80.22 L578.94 81.43 L578.93 82.64 L578.92 83.86 L578.92 85.07 L578.91 86.28 L578.91 87.49 L578.91 88.71 L578.91 89.92 L578.9 91.13 L578.9 92.35 L578.9 93.56 L578.9 94.77 L578.89 95.99 L578.89 97.2 L578.89 98.41 L578.89 99.62 L578.89 100.84 L578.89 102.05 L578.88 103.26 L578.88 104.48 L578.88 105.69 L578.88 106.9 L578.88 108.11 L578.88 109.33 L578.88 110.54 L578.88 111.75 L578.87 112.97 L578.87 114.18 L578.87 115.39 L578.87 116.6 L578.87 117.82 L578.87 119.03 L578.87 120.24 L578.87 121.46 L578.87 122.67 L578.87 123.88 L578.87 125.1 L578.87 126.31 L578.9 127.52 L578.95 128.73 L579.02 129.95 L579.1 131.16 L579.2 132.37 L579.3 133.59 L579.4 134.8 L579.54 136.01 L579.69 137.22 L579.86 138.44 L580.02 139.65 L580.19 140.86 L580.36 142.08 L580.53 143.29 L580.71 144.5 L580.9 145.71 L581.11 146.93 L581.34 148.14 L581.59 149.35 L581.89 150.57 L582.21 151.78 L582.59 152.99 L582.98 154.21 L583.38 155.42 L583.78 156.63 L584.19 157.84 L584.62 159.06 L585.06 160.27 L585.51 161.48 L585.97 162.7 L586.41 163.91 L586.84 165.12 L587.26 166.33 L587.67 167.55 L588.07 168.76 L588.48 169.97 L588.88 171.19 L589.29 172.4 L589.71 173.61 L590.14 174.83 L590.57 176.04 L591.01 177.25 L591.45 178.46 L591.88 179.68 L592.31 180.89 L592.74 182.1 L593.19 183.32 L593.64 184.53 L594.09 185.74 L594.52 186.95 L594.92 188.17 L595.29 189.38 L595.6 190.59 L595.89 191.81 L596.16 193.02 L596.42 194.23 L596.65 195.44 L596.86 196.66 L597.04 197.87 L597.21 199.08 L597.37 200.3 L597.51 201.51 L597.59 202.72 L597.59 203.94 L597.53 205.15 L597.4 206.36 L597.23 207.57 L596.94 208.79 L596.2 210 L560.8 210 L560.06 208.79 L559.77 207.57 L559.6 206.36 L559.47 205.15 L559.41 203.94 L559.41 202.72 L559.49 201.51 L559.63 200.3 L559.79 199.08 L559.96 197.87 L560.14 196.66 L560.35 195.44 L560.58 194.23 L560.84 193.02 L561.11 191.81 L561.4 190.59 L561.71 189.38 L562.08 188.17 L562.48 186.95 L562.91 185.74 L563.36 184.53 L563.81 183.32 L564.26 182.1 L564.69 180.89 L565.12 179.68 L565.55 178.46 L565.99 177.25 L566.43 176.04 L566.86 174.83 L567.29 173.61 L567.71 172.4 L568.12 171.19 L568.52 169.97 L568.93 168.76 L569.33 167.55 L569.74 166.33 L570.16 165.12 L570.59 163.91 L571.03 162.7 L571.49 161.48 L571.94 160.27 L572.38 159.06 L572.81 157.84 L573.22 156.63 L573.62 155.42 L574.02 154.21 L574.41 152.99 L574.79 151.78 L575.11 150.57 L575.41 149.35 L575.66 148.14 L575.89 146.93 L576.1 145.71 L576.29 144.5 L576.47 143.29 L576.64 142.08 L576.81 140.86 L576.98 139.65 L577.14 138.44 L577.31 137.22 L577.46 136.01 L577.6 134.8 L577.7 133.59 L577.8 132.37 L577.9 131.16 L577.98 129.95 L578.05 128.73 L578.1 127.52 L578.13 126.31 L578.13 125.1 L578.13 123.88 L578.13 122.67 L578.13 121.46 L578.13 120.24 L578.13 119.03 L578.13 117.82 L578.13 116.6 L578.13 115.39 L578.13 114.18 L578.13 112.97 L578.12 111.75 L578.12 110.54 L578.12 109.33 L578.12 108.11 L578.12 106.9 L578.12 105.69 L578.12 104.48 L578.12 103.26 L578.11 102.05 L578.11 100.84 L578.11 99.62 L578.11 98.41 L578.11 97.2 L578.11 95.99 L578.1 94.77 L578.1 93.56 L578.1 92.35 L578.1 91.13 L578.09 89.92 L578.09 88.71 L578.09 87.49 L578.09 86.28 L578.08 85.07 L578.08 83.86 L578.07 82.64 L578.06 81.43 L578.05 80.22 L578.03 79 L578.02 77.79 L578 76.58 L577.98 75.37 L577.96 74.15 L577.94 72.94 L577.92 71.73 L577.9 70.51 L577.88 69.3 L577.86 68.09 L577.84 66.87 L577.82 65.66 L577.8 64.45 L577.79 63.24 L577.77 62.02 L577.76 60.81 L577.76 59.6 L577.75 58.38 L577.75 57.17 L577.74 55.96 L577.73 54.75 L577.73 53.53 L577.72 52.32 L577.72 51.11 L577.71 49.89 L577.71 48.68 L577.7 47.47 L577.7 46.26 L577.69 45.04 L577.69 43.83 L577.68 42.62 L577.68 41.4 L577.68 40.19 L577.68 38.98 L577.67 37.76 L577.67 36.55 L577.67 35.34 L577.67 34.13 L577.67 32.91 L577.67 31.7 Z" fill="#e37d7c" stroke="#262626" stroke-width="0.7" stroke-linejoin="round"/>
<line x1="578.5" y1="159.2" x2="578.5" y2="210" stroke="#2a2a2a" stroke-width="0.9"/>
<rect x="577" y="188.3" width="3" height="18.7" fill="#000"/>
<circle cx="578.5" cy="203.3" r="2" fill="#fff"/>
<line x1="558.8" y1="210" x2="598" y2="210" stroke="#111" stroke-width="1.7"/>
<path d="M627.41 157.2 L627.41 158.43 L627.42 159.67 L627.43 160.9 L627.45 162.14 L627.47 163.37 L627.49 164.61 L627.52 165.84 L627.56 167.08 L627.62 168.31 L627.69 169.55 L627.77 170.78 L627.86 172.02 L627.96 173.25 L628.09 174.49 L628.26 175.72 L628.46 176.96 L628.7 178.19 L628.97 179.43 L629.27 180.66 L629.59 181.9 L629.97 183.13 L630.46 184.37 L631.03 185.6 L631.66 186.84 L632.36 188.07 L633.18 189.31 L634.18 190.54 L635.29 191.78 L636.44 193.01 L637.6 194.25 L638.86 195.48 L640.12 196.72 L641.3 197.95 L642.38 199.19 L643.48 200.42 L644.37 201.66 L644.87 202.89 L645.17 204.13 L645.21 205.36 L644.59 206.6 L643.6 207.83 L641.85 209.07 L638.5 210.3 L614.1 210.3 L610.75 209.07 L609 207.83 L608.01 206.6 L607.39 205.36 L607.43 204.13 L607.73 202.89 L608.23 201.66 L609.12 200.42 L610.22 199.19 L611.3 197.95 L612.48 196.72 L613.74 195.48 L615 194.25 L616.16 193.01 L617.31 191.78 L618.42 190.54 L619.42 189.31 L620.24 188.07 L620.94 186.84 L621.57 185.6 L622.14 184.37 L622.63 183.13 L623.01 181.9 L623.33 180.66 L623.63 179.43 L623.9 178.19 L624.14 176.96 L624.34 175.72 L624.51 174.49 L624.64 173.25 L624.74 172.02 L624.83 170.78 L624.91 169.55 L624.98 168.31 L625.04 167.08 L625.08 165.84 L625.11 164.61 L625.13 163.37 L625.15 162.14 L625.17 160.9 L625.18 159.67 L625.19 158.43 L625.19 157.2 Z" fill="#e37d7c" stroke="#262626" stroke-width="0.7" stroke-linejoin="round"/>
<line x1="626.3" y1="173.3" x2="626.3" y2="209.7" stroke="#2a2a2a" stroke-width="0.9"/>
<rect x="624.8" y="194.2" width="3" height="12.5" fill="#000"/>
<circle cx="626.3" cy="202.5" r="2" fill="#fff"/>
<path d="M674.96 51.25 L674.96 52.46 L674.97 53.68 L674.97 54.89 L674.97 56.11 L674.97 57.32 L674.97 58.53 L674.98 59.75 L674.98 60.96 L674.98 62.18 L674.98 63.39 L674.99 64.61 L674.99 65.82 L674.99 67.03 L674.99 68.25 L674.99 69.46 L675 70.68 L675 71.89 L675 73.1 L675 74.32 L675.01 75.53 L675.01 76.75 L675.01 77.96 L675.01 79.17 L675.02 80.39 L675.02 81.6 L675.02 82.82 L675.02 84.03 L675.02 85.25 L675.03 86.46 L675.03 87.67 L675.03 88.89 L675.03 90.1 L675.04 91.32 L675.04 92.53 L675.04 93.74 L675.04 94.96 L675.05 96.17 L675.05 97.39 L675.05 98.6 L675.05 99.81 L675.06 101.03 L675.06 102.24 L675.06 103.46 L675.06 104.67 L675.07 105.89 L675.07 107.1 L675.07 108.31 L675.07 109.53 L675.07 110.74 L675.07 111.96 L675.08 113.17 L675.08 114.38 L675.08 115.6 L675.08 116.81 L675.08 118.03 L675.08 119.24 L675.09 120.45 L675.09 121.67 L675.09 122.88 L675.09 124.1 L675.1 125.31 L675.1 126.53 L675.1 127.74 L675.11 128.95 L675.11 130.17 L675.11 131.38 L675.12 132.6 L675.12 133.81 L675.13 135.02 L675.13 136.24 L675.14 137.45 L675.14 138.67 L675.15 139.88 L675.16 141.1 L675.17 142.31 L675.19 143.52 L675.22 144.74 L675.25 145.95 L675.29 147.17 L675.34 148.38 L675.41 149.59 L675.53 150.81 L675.68 152.02 L675.86 153.24 L676.06 154.45 L676.26 155.66 L676.47 156.88 L676.7 158.09 L676.96 159.31 L677.25 160.52 L677.55 161.74 L677.87 162.95 L678.2 164.16 L678.56 165.38 L678.93 166.59 L679.32 167.81 L679.72 169.02 L680.14 170.23 L680.58 171.45 L681.05 172.66 L681.54 173.88 L682.08 175.09 L682.67 176.3 L683.29 177.52 L683.92 178.73 L684.55 179.95 L685.18 181.16 L685.79 182.38 L686.41 183.59 L687.03 184.8 L687.65 186.02 L688.27 187.23 L688.86 188.45 L689.44 189.66 L690.01 190.87 L690.59 192.09 L691.16 193.3 L691.69 194.52 L692.15 195.73 L692.52 196.94 L692.85 198.16 L693.16 199.37 L693.37 200.59 L693.45 201.8 L693.39 203.02 L693.24 204.23 L693.02 205.44 L692.65 206.66 L691.85 207.87 L690.56 209.09 L688 210.3 L661 210.3 L658.44 209.09 L657.15 207.87 L656.35 206.66 L655.98 205.44 L655.76 204.23 L655.61 203.02 L655.55 201.8 L655.63 200.59 L655.84 199.37 L656.15 198.16 L656.48 196.94 L656.85 195.73 L657.31 194.52 L657.84 193.3 L658.41 192.09 L658.99 190.87 L659.56 189.66 L660.14 188.45 L660.73 187.23 L661.35 186.02 L661.97 184.8 L662.59 183.59 L663.21 182.38 L663.82 181.16 L664.45 179.95 L665.08 178.73 L665.71 177.52 L666.33 176.3 L666.92 175.09 L667.46 173.88 L667.95 172.66 L668.42 171.45 L668.86 170.23 L669.28 169.02 L669.68 167.81 L670.07 166.59 L670.44 165.38 L670.8 164.16 L671.13 162.95 L671.45 161.74 L671.75 160.52 L672.04 159.31 L672.3 158.09 L672.53 156.88 L672.74 155.66 L672.94 154.45 L673.14 153.24 L673.32 152.02 L673.47 150.81 L673.59 149.59 L673.66 148.38 L673.71 147.17 L673.75 145.95 L673.78 144.74 L673.81 143.52 L673.83 142.31 L673.84 141.1 L673.85 139.88 L673.86 138.67 L673.86 137.45 L673.87 136.24 L673.87 135.02 L673.88 133.81 L673.88 132.6 L673.89 131.38 L673.89 130.17 L673.89 128.95 L673.9 127.74 L673.9 126.53 L673.9 125.31 L673.91 124.1 L673.91 122.88 L673.91 121.67 L673.91 120.45 L673.92 119.24 L673.92 118.03 L673.92 116.81 L673.92 115.6 L673.92 114.38 L673.92 113.17 L673.93 111.96 L673.93 110.74 L673.93 109.53 L673.93 108.31 L673.93 107.1 L673.93 105.89 L673.94 104.67 L673.94 103.46 L673.94 102.24 L673.94 101.03 L673.95 99.81 L673.95 98.6 L673.95 97.39 L673.95 96.17 L673.96 94.96 L673.96 93.74 L673.96 92.53 L673.96 91.32 L673.97 90.1 L673.97 88.89 L673.97 87.67 L673.97 86.46 L673.98 85.25 L673.98 84.03 L673.98 82.82 L673.98 81.6 L673.98 80.39 L673.99 79.17 L673.99 77.96 L673.99 76.75 L673.99 75.53 L674 74.32 L674 73.1 L674 71.89 L674 70.68 L674.01 69.46 L674.01 68.25 L674.01 67.03 L674.01 65.82 L674.01 64.61 L674.02 63.39 L674.02 62.18 L674.02 60.96 L674.02 59.75 L674.03 58.53 L674.03 57.32 L674.03 56.11 L674.03 54.89 L674.03 53.68 L674.04 52.46 L674.04 51.25 Z" fill="#e37d7c" stroke="#262626" stroke-width="0.7" stroke-linejoin="round"/>
<line x1="674.5" y1="170.8" x2="674.5" y2="209.7" stroke="#2a2a2a" stroke-width="0.9"/>
<rect x="673" y="192.2" width="3" height="13.6" fill="#000"/>
<circle cx="674.5" cy="201.7" r="2" fill="#fff"/>
<rect x="498.8" y="6.5" width="207.4" height="210.7" fill="none" stroke="#1c1c1c" stroke-width="1.15"/>
<line x1="494.6" y1="9.3" x2="498.8" y2="9.3" stroke="#4a4a4a" stroke-width="1"/>
<text transform="translate(487.5 9.3) scale(0.79 1) rotate(-90)" text-anchor="middle" font-size="9" fill="#000" stroke="#000" stroke-width="0.16">8</text>
<line x1="494.6" y1="59.5" x2="498.8" y2="59.5" stroke="#4a4a4a" stroke-width="1"/>
<text transform="translate(487.5 59.5) scale(0.79 1) rotate(-90)" text-anchor="middle" font-size="9" fill="#000" stroke="#000" stroke-width="0.16">6</text>
<line x1="494.6" y1="109.6" x2="498.8" y2="109.6" stroke="#4a4a4a" stroke-width="1"/>
<text transform="translate(487.5 109.6) scale(0.79 1) rotate(-90)" text-anchor="middle" font-size="9" fill="#000" stroke="#000" stroke-width="0.16">4</text>
<line x1="494.6" y1="159.7" x2="498.8" y2="159.7" stroke="#4a4a4a" stroke-width="1"/>
<text transform="translate(487.5 159.7) scale(0.79 1) rotate(-90)" text-anchor="middle" font-size="9" fill="#000" stroke="#000" stroke-width="0.16">2</text>
<line x1="494.6" y1="209.8" x2="498.8" y2="209.8" stroke="#4a4a4a" stroke-width="1"/>
<text transform="translate(487.5 209.8) scale(0.79 1) rotate(-90)" text-anchor="middle" font-size="9" fill="#000" stroke="#000" stroke-width="0.16">0</text>
<line x1="530.2" y1="217.2" x2="530.2" y2="223.4" stroke="#4a4a4a" stroke-width="1"/>
<text transform="translate(530.2 237) scale(0.7 1)" text-anchor="middle" font-size="9.9" fill="#000" stroke="#000" stroke-width="0.16">Stage I</text>
<line x1="578.5" y1="217.2" x2="578.5" y2="223.4" stroke="#4a4a4a" stroke-width="1"/>
<text transform="translate(578.5 237) scale(0.7 1)" text-anchor="middle" font-size="9.9" fill="#000" stroke="#000" stroke-width="0.16">Stage II</text>
<line x1="626.3" y1="217.2" x2="626.3" y2="223.4" stroke="#4a4a4a" stroke-width="1"/>
<text transform="translate(626.45 237) scale(0.7 1)" text-anchor="middle" font-size="9.9" fill="#000" stroke="#000" stroke-width="0.16">Stage III</text>
<line x1="674.5" y1="217.2" x2="674.5" y2="223.4" stroke="#4a4a4a" stroke-width="1"/>
<text transform="translate(674.5 237) scale(0.7 1)" text-anchor="middle" font-size="9.9" fill="#000" stroke="#000" stroke-width="0.16">Stage IV</text>
<text transform="translate(511.9 26.6) scale(0.98 1.03)" font-size="22.2" font-weight="bold" fill="#000" stroke="#000" stroke-width="0.35">KIRC</text>
<text transform="translate(694.4 17.6) scale(0.76 1)" text-anchor="end" font-size="9.9" fill="#000" stroke="#000" stroke-width="0.16">F value = 3.68</text>
<text transform="translate(694.4 29.5) scale(0.76 1)" text-anchor="end" font-size="9.9" fill="#000" stroke="#000" stroke-width="0.16">Pr(&gt;F) = 0.012</text>
</g>
<g>
<path d="M63.72 286.75 L63.76 287.97 L63.79 289.18 L63.83 290.4 L63.88 291.62 L63.93 292.83 L63.98 294.05 L64.04 295.27 L64.1 296.48 L64.16 297.7 L64.22 298.92 L64.29 300.13 L64.36 301.35 L64.44 302.57 L64.53 303.79 L64.63 305 L64.72 306.22 L64.82 307.44 L64.91 308.65 L65 309.87 L65.09 311.09 L65.18 312.3 L65.28 313.52 L65.36 314.74 L65.44 315.95 L65.51 317.17 L65.57 318.39 L65.62 319.6 L65.67 320.82 L65.72 322.04 L65.77 323.25 L65.83 324.47 L65.89 325.69 L65.94 326.9 L66.01 328.12 L66.07 329.34 L66.13 330.55 L66.19 331.77 L66.25 332.99 L66.31 334.21 L66.37 335.42 L66.43 336.64 L66.48 337.86 L66.54 339.07 L66.61 340.29 L66.69 341.51 L66.77 342.72 L66.87 343.94 L66.98 345.16 L67.09 346.37 L67.2 347.59 L67.31 348.81 L67.4 350.02 L67.48 351.24 L67.55 352.46 L67.61 353.67 L67.68 354.89 L67.75 356.11 L67.83 357.32 L67.92 358.54 L68.03 359.76 L68.16 360.97 L68.3 362.19 L68.45 363.41 L68.61 364.62 L68.78 365.84 L68.95 367.06 L69.15 368.28 L69.37 369.49 L69.6 370.71 L69.84 371.93 L70.07 373.14 L70.29 374.36 L70.49 375.58 L70.68 376.79 L70.85 378.01 L71.02 379.23 L71.19 380.44 L71.36 381.66 L71.54 382.88 L71.72 384.09 L71.9 385.31 L72.08 386.53 L72.26 387.74 L72.45 388.96 L72.64 390.18 L72.85 391.39 L73.06 392.61 L73.29 393.83 L73.52 395.04 L73.76 396.26 L74.02 397.48 L74.29 398.7 L74.58 399.91 L74.88 401.13 L75.2 402.35 L75.54 403.56 L75.91 404.78 L76.29 406 L76.71 407.21 L77.15 408.43 L77.65 409.65 L78.21 410.86 L78.81 412.08 L79.44 413.3 L80.09 414.51 L80.74 415.73 L81.38 416.95 L82.04 418.16 L82.72 419.38 L83.41 420.6 L84.1 421.81 L84.76 423.03 L85.39 424.25 L85.97 425.46 L86.57 426.68 L87.17 427.9 L87.72 429.12 L88.17 430.33 L88.47 431.55 L88.66 432.77 L88.82 433.98 L88.94 435.2 L89 436.42 L88.97 437.63 L88.87 438.85 L88.71 440.07 L88.5 441.28 L88.1 442.5 L37.5 442.5 L37.1 441.28 L36.89 440.07 L36.73 438.85 L36.63 437.63 L36.6 436.42 L36.66 435.2 L36.78 433.98 L36.94 432.77 L37.13 431.55 L37.43 430.33 L37.88 429.12 L38.43 427.9 L39.03 426.68 L39.63 425.46 L40.21 424.25 L40.84 423.03 L41.5 421.81 L42.19 420.6 L42.88 419.38 L43.56 418.16 L44.22 416.95 L44.86 415.73 L45.51 414.51 L46.16 413.3 L46.79 412.08 L47.39 410.86 L47.95 409.65 L48.45 408.43 L48.89 407.21 L49.31 406 L49.69 404.78 L50.06 403.56 L50.4 402.35 L50.72 401.13 L51.02 399.91 L51.31 398.7 L51.58 397.48 L51.84 396.26 L52.08 395.04 L52.31 393.83 L52.54 392.61 L52.75 391.39 L52.96 390.18 L53.15 388.96 L53.34 387.74 L53.52 386.53 L53.7 385.31 L53.88 384.09 L54.06 382.88 L54.24 381.66 L54.41 380.44 L54.58 379.23 L54.75 378.01 L54.92 376.79 L55.11 375.58 L55.31 374.36 L55.53 373.14 L55.76 371.93 L56 370.71 L56.23 369.49 L56.45 368.28 L56.65 367.06 L56.82 365.84 L56.99 364.62 L57.15 363.41 L57.3 362.19 L57.44 360.97 L57.57 359.76 L57.68 358.54 L57.77 357.32 L57.85 356.11 L57.92 354.89 L57.99 353.67 L58.05 352.46 L58.12 351.24 L58.2 350.02 L58.29 348.81 L58.4 347.59 L58.51 346.37 L58.62 345.16 L58.73 343.94 L58.83 342.72 L58.91 341.51 L58.99 340.29 L59.06 339.07 L59.12 337.86 L59.17 336.64 L59.23 335.42 L59.29 334.21 L59.35 332.99 L59.41 331.77 L59.47 330.55 L59.53 329.34 L59.59 328.12 L59.66 326.9 L59.71 325.69 L59.77 324.47 L59.83 323.25 L59.88 322.04 L59.93 320.82 L59.98 319.6 L60.03 318.39 L60.09 317.17 L60.16 315.95 L60.24 314.74 L60.32 313.52 L60.42 312.3 L60.51 311.09 L60.6 309.87 L60.69 308.65 L60.78 307.44 L60.88 306.22 L60.97 305 L61.07 303.79 L61.16 302.57 L61.24 301.35 L61.31 300.13 L61.38 298.92 L61.44 297.7 L61.5 296.48 L61.56 295.27 L61.62 294.05 L61.67 292.83 L61.72 291.62 L61.77 290.4 L61.81 289.18 L61.84 287.97 L61.88 286.75 Z" fill="#e37d7c" stroke="#262626" stroke-width="0.7" stroke-linejoin="round"/>
<line x1="62.8" y1="324.2" x2="62.8" y2="442.75" stroke="#2a2a2a" stroke-width="0.9"/>
<rect x="60.8" y="393" width="4" height="46.7" fill="#000"/>
<circle cx="62.8" cy="433.7" r="2.4" fill="#fff"/>
<line x1="36.2" y1="443" x2="89.2" y2="443" stroke="#111" stroke-width="1.7"/>
<path d="M133.6 316.3 L133.71 317.51 L133.82 318.73 L133.93 319.94 L134.05 321.15 L134.17 322.37 L134.3 323.58 L134.43 324.79 L134.56 326.01 L134.7 327.22 L134.83 328.43 L134.98 329.65 L135.13 330.86 L135.29 332.07 L135.45 333.29 L135.62 334.5 L135.8 335.72 L135.98 336.93 L136.17 338.14 L136.38 339.36 L136.59 340.57 L136.82 341.78 L137.05 343 L137.31 344.21 L137.58 345.42 L137.86 346.64 L138.15 347.85 L138.46 349.06 L138.77 350.28 L139.11 351.49 L139.46 352.7 L139.84 353.92 L140.22 355.13 L140.6 356.34 L140.98 357.56 L141.34 358.77 L141.7 359.98 L142.05 361.2 L142.41 362.41 L142.76 363.62 L143.13 364.84 L143.5 366.05 L143.88 367.27 L144.26 368.48 L144.65 369.69 L145.04 370.91 L145.45 372.12 L145.87 373.33 L146.32 374.55 L146.81 375.76 L147.36 376.97 L147.95 378.19 L148.56 379.4 L149.17 380.61 L149.75 381.83 L150.29 383.04 L150.78 384.25 L151.26 385.47 L151.73 386.68 L152.18 387.89 L152.6 389.11 L152.99 390.32 L153.35 391.53 L153.69 392.75 L154.01 393.96 L154.32 395.18 L154.61 396.39 L154.87 397.6 L155.11 398.82 L155.3 400.03 L155.49 401.24 L155.67 402.46 L155.84 403.67 L155.99 404.88 L156.11 406.1 L156.18 407.31 L156.2 408.52 L156.18 409.74 L156.14 410.95 L156.07 412.16 L155.99 413.38 L155.89 414.59 L155.78 415.8 L155.67 417.02 L155.48 418.23 L155.23 419.44 L154.91 420.66 L154.56 421.87 L154.19 423.08 L153.81 424.3 L153.44 425.51 L153.05 426.73 L152.63 427.94 L152.18 429.15 L151.72 430.37 L151.25 431.58 L150.79 432.79 L150.34 434.01 L149.88 435.22 L149.41 436.43 L148.92 437.65 L148.4 438.86 L147.86 440.07 L147.29 441.29 L146.7 442.5 L112.3 442.5 L111.71 441.29 L111.14 440.07 L110.6 438.86 L110.08 437.65 L109.59 436.43 L109.12 435.22 L108.66 434.01 L108.21 432.79 L107.75 431.58 L107.28 430.37 L106.82 429.15 L106.37 427.94 L105.95 426.73 L105.56 425.51 L105.19 424.3 L104.81 423.08 L104.44 421.87 L104.09 420.66 L103.77 419.44 L103.52 418.23 L103.33 417.02 L103.22 415.8 L103.11 414.59 L103.01 413.38 L102.93 412.16 L102.86 410.95 L102.82 409.74 L102.8 408.52 L102.82 407.31 L102.89 406.1 L103.01 404.88 L103.16 403.67 L103.33 402.46 L103.51 401.24 L103.7 400.03 L103.89 398.82 L104.13 397.6 L104.39 396.39 L104.68 395.18 L104.99 393.96 L105.31 392.75 L105.65 391.53 L106.01 390.32 L106.4 389.11 L106.82 387.89 L107.27 386.68 L107.74 385.47 L108.22 384.25 L108.71 383.04 L109.25 381.83 L109.83 380.61 L110.44 379.4 L111.05 378.19 L111.64 376.97 L112.19 375.76 L112.68 374.55 L113.13 373.33 L113.55 372.12 L113.96 370.91 L114.35 369.69 L114.74 368.48 L115.12 367.27 L115.5 366.05 L115.87 364.84 L116.24 363.62 L116.59 362.41 L116.95 361.2 L117.3 359.98 L117.66 358.77 L118.02 357.56 L118.4 356.34 L118.78 355.13 L119.16 353.92 L119.54 352.7 L119.89 351.49 L120.23 350.28 L120.54 349.06 L120.85 347.85 L121.14 346.64 L121.42 345.42 L121.69 344.21 L121.95 343 L122.18 341.78 L122.41 340.57 L122.62 339.36 L122.83 338.14 L123.02 336.93 L123.2 335.72 L123.38 334.5 L123.55 333.29 L123.71 332.07 L123.87 330.86 L124.02 329.65 L124.17 328.43 L124.3 327.22 L124.44 326.01 L124.57 324.79 L124.7 323.58 L124.83 322.37 L124.95 321.15 L125.07 319.94 L125.18 318.73 L125.29 317.51 L125.4 316.3 Z" fill="#e37d7c" stroke="#262626" stroke-width="0.7" stroke-linejoin="round"/>
<line x1="129.5" y1="320.8" x2="129.5" y2="442.5" stroke="#2a2a2a" stroke-width="0.9"/>
<rect x="127.5" y="381.7" width="4" height="41.1" fill="#000"/>
<circle cx="129.5" cy="405" r="2.4" fill="#fff"/>
<line x1="102.8" y1="443" x2="155.8" y2="443" stroke="#111" stroke-width="1.7"/>
<path d="M199.2 269 L199.28 270.22 L199.37 271.43 L199.46 272.65 L199.55 273.86 L199.65 275.08 L199.74 276.29 L199.85 277.51 L199.95 278.72 L200.06 279.94 L200.18 281.15 L200.29 282.37 L200.42 283.58 L200.54 284.8 L200.67 286.01 L200.8 287.23 L200.93 288.45 L201.07 289.66 L201.2 290.88 L201.34 292.09 L201.48 293.31 L201.61 294.52 L201.75 295.74 L201.89 296.95 L202.03 298.17 L202.17 299.38 L202.31 300.6 L202.46 301.81 L202.6 303.03 L202.75 304.24 L202.9 305.46 L203.05 306.68 L203.2 307.89 L203.34 309.11 L203.49 310.32 L203.64 311.54 L203.79 312.75 L203.95 313.97 L204.1 315.18 L204.26 316.4 L204.42 317.61 L204.58 318.83 L204.74 320.04 L204.9 321.26 L205.06 322.47 L205.21 323.69 L205.36 324.91 L205.51 326.12 L205.65 327.34 L205.78 328.55 L205.91 329.77 L206.02 330.98 L206.12 332.2 L206.23 333.41 L206.34 334.63 L206.46 335.84 L206.61 337.06 L206.79 338.27 L207 339.49 L207.23 340.7 L207.48 341.92 L207.74 343.14 L208 344.35 L208.25 345.57 L208.5 346.78 L208.74 348 L208.99 349.21 L209.25 350.43 L209.51 351.64 L209.8 352.86 L210.09 354.07 L210.42 355.29 L210.76 356.5 L211.12 357.72 L211.49 358.93 L211.87 360.15 L212.25 361.36 L212.63 362.58 L213.03 363.8 L213.43 365.01 L213.84 366.23 L214.25 367.44 L214.66 368.66 L215.06 369.87 L215.45 371.09 L215.85 372.3 L216.24 373.52 L216.63 374.73 L217 375.95 L217.37 377.16 L217.71 378.38 L218.04 379.59 L218.37 380.81 L218.69 382.03 L218.99 383.24 L219.28 384.46 L219.54 385.67 L219.78 386.89 L219.99 388.1 L220.2 389.32 L220.39 390.53 L220.57 391.75 L220.73 392.96 L220.88 394.18 L221.01 395.39 L221.14 396.61 L221.27 397.82 L221.39 399.04 L221.5 400.26 L221.6 401.47 L221.66 402.69 L221.7 403.9 L221.7 405.12 L221.68 406.33 L221.65 407.55 L221.6 408.76 L221.55 409.98 L221.49 411.19 L221.42 412.41 L221.32 413.62 L221.16 414.84 L220.95 416.05 L220.69 417.27 L220.41 418.49 L220.11 419.7 L219.82 420.92 L219.52 422.13 L219.19 423.35 L218.84 424.56 L218.46 425.78 L218.07 426.99 L217.67 428.21 L217.26 429.42 L216.83 430.64 L216.39 431.85 L215.93 433.07 L215.44 434.28 L214.95 435.5 L176.05 435.5 L175.56 434.28 L175.07 433.07 L174.61 431.85 L174.17 430.64 L173.74 429.42 L173.33 428.21 L172.93 426.99 L172.54 425.78 L172.16 424.56 L171.81 423.35 L171.48 422.13 L171.18 420.92 L170.89 419.7 L170.59 418.49 L170.31 417.27 L170.05 416.05 L169.84 414.84 L169.68 413.62 L169.58 412.41 L169.51 411.19 L169.45 409.98 L169.4 408.76 L169.35 407.55 L169.32 406.33 L169.3 405.12 L169.3 403.9 L169.34 402.69 L169.4 401.47 L169.5 400.26 L169.61 399.04 L169.73 397.82 L169.86 396.61 L169.99 395.39 L170.12 394.18 L170.27 392.96 L170.43 391.75 L170.61 390.53 L170.8 389.32 L171.01 388.1 L171.22 386.89 L171.46 385.67 L171.72 384.46 L172.01 383.24 L172.31 382.03 L172.63 380.81 L172.96 379.59 L173.29 378.38 L173.63 377.16 L174 375.95 L174.37 374.73 L174.76 373.52 L175.15 372.3 L175.55 371.09 L175.94 369.87 L176.34 368.66 L176.75 367.44 L177.16 366.23 L177.57 365.01 L177.97 363.8 L178.37 362.58 L178.75 361.36 L179.13 360.15 L179.51 358.93 L179.88 357.72 L180.24 356.5 L180.58 355.29 L180.91 354.07 L181.2 352.86 L181.49 351.64 L181.75 350.43 L182.01 349.21 L182.26 348 L182.5 346.78 L182.75 345.57 L183 344.35 L183.26 343.14 L183.52 341.92 L183.77 340.7 L184 339.49 L184.21 338.27 L184.39 337.06 L184.54 335.84 L184.66 334.63 L184.77 333.41 L184.88 332.2 L184.98 330.98 L185.09 329.77 L185.22 328.55 L185.35 327.34 L185.49 326.12 L185.64 324.91 L185.79 323.69 L185.94 322.47 L186.1 321.26 L186.26 320.04 L186.42 318.83 L186.58 317.61 L186.74 316.4 L186.9 315.18 L187.05 313.97 L187.21 312.75 L187.36 311.54 L187.51 310.32 L187.66 309.11 L187.8 307.89 L187.95 306.68 L188.1 305.46 L188.25 304.24 L188.4 303.03 L188.54 301.81 L188.69 300.6 L188.83 299.38 L188.97 298.17 L189.11 296.95 L189.25 295.74 L189.39 294.52 L189.52 293.31 L189.66 292.09 L189.8 290.88 L189.93 289.66 L190.07 288.45 L190.2 287.23 L190.33 286.01 L190.46 284.8 L190.58 283.58 L190.71 282.37 L190.82 281.15 L190.94 279.94 L191.05 278.72 L191.15 277.51 L191.26 276.29 L191.35 275.08 L191.45 273.86 L191.54 272.65 L191.63 271.43 L191.72 270.22 L191.8 269 Z" fill="#e37d7c" stroke="#262626" stroke-width="0.7" stroke-linejoin="round"/>
<line x1="195.5" y1="296.2" x2="195.5" y2="435.5" stroke="#2a2a2a" stroke-width="0.9"/>
<rect x="193.5" y="368.7" width="4" height="48.6" fill="#000"/>
<circle cx="195.5" cy="403.2" r="2.4" fill="#fff"/>
<rect x="21.6" y="244.3" width="215.2" height="205.8" fill="none" stroke="#1c1c1c" stroke-width="1.15"/>
<line x1="16.1" y1="284.5" x2="21.6" y2="284.5" stroke="#4a4a4a" stroke-width="1"/>
<text transform="translate(9 284.5) scale(0.98 1) rotate(-90)" text-anchor="middle" font-size="9.8" fill="#000" stroke="#000" stroke-width="0.16">6</text>
<line x1="16.1" y1="337.25" x2="21.6" y2="337.25" stroke="#4a4a4a" stroke-width="1"/>
<text transform="translate(9 337.25) scale(0.98 1) rotate(-90)" text-anchor="middle" font-size="9.8" fill="#000" stroke="#000" stroke-width="0.16">4</text>
<line x1="16.1" y1="390" x2="21.6" y2="390" stroke="#4a4a4a" stroke-width="1"/>
<text transform="translate(9 390) scale(0.98 1) rotate(-90)" text-anchor="middle" font-size="9.8" fill="#000" stroke="#000" stroke-width="0.16">2</text>
<line x1="16.1" y1="442.75" x2="21.6" y2="442.75" stroke="#4a4a4a" stroke-width="1"/>
<text transform="translate(9 442.75) scale(0.98 1) rotate(-90)" text-anchor="middle" font-size="9.8" fill="#000" stroke="#000" stroke-width="0.16">0</text>
<line x1="62.8" y1="450.1" x2="62.8" y2="455.4" stroke="#4a4a4a" stroke-width="1"/>
<text transform="translate(62.5 469.3) scale(0.96 1)" text-anchor="middle" font-size="9.3" fill="#000" stroke="#000" stroke-width="0.16">Stage I</text>
<line x1="129.5" y1="450.1" x2="129.5" y2="455.4" stroke="#4a4a4a" stroke-width="1"/>
<text transform="translate(129.5 469.3) scale(0.96 1)" text-anchor="middle" font-size="9.3" fill="#000" stroke="#000" stroke-width="0.16">Stage II</text>
<line x1="195.5" y1="450.1" x2="195.5" y2="455.4" stroke="#4a4a4a" stroke-width="1"/>
<text transform="translate(195.5 469.3) scale(0.96 1)" text-anchor="middle" font-size="9.3" fill="#000" stroke="#000" stroke-width="0.16">Stage III</text>
<text transform="translate(34.6 267.7) scale(0.98 1.03)" font-size="22" font-weight="bold" fill="#000" stroke="#000" stroke-width="0.35">TGCT</text>
<text transform="translate(223.3 254.6) scale(1.05 1)" text-anchor="end" font-size="9.3" fill="#000" stroke="#000" stroke-width="0.16">F value = 3.78</text>
<text transform="translate(223.3 266.6) scale(1.05 1)" text-anchor="end" font-size="9.3" fill="#000" stroke="#000" stroke-width="0.16">Pr(&gt;F) = 0.0254</text>
</g>
<g>
<path d="M294.56 270.8 L294.61 272.02 L294.67 273.23 L294.73 274.45 L294.8 275.66 L294.87 276.88 L294.95 278.1 L295.04 279.31 L295.13 280.53 L295.22 281.75 L295.32 282.96 L295.42 284.18 L295.52 285.39 L295.63 286.61 L295.75 287.83 L295.88 289.04 L296.02 290.26 L296.17 291.48 L296.33 292.69 L296.5 293.91 L296.7 295.12 L296.91 296.34 L297.14 297.56 L297.39 298.77 L297.63 299.99 L297.89 301.2 L298.16 302.42 L298.44 303.64 L298.73 304.85 L299.03 306.07 L299.33 307.29 L299.63 308.5 L299.93 309.72 L300.23 310.93 L300.52 312.15 L300.81 313.37 L301.1 314.58 L301.4 315.8 L301.69 317.02 L301.98 318.23 L302.28 319.45 L302.57 320.66 L302.86 321.88 L303.15 323.1 L303.45 324.31 L303.75 325.53 L304.06 326.75 L304.38 327.96 L304.7 329.18 L305.04 330.39 L305.37 331.61 L305.7 332.83 L306.04 334.04 L306.37 335.26 L306.7 336.47 L307.02 337.69 L307.35 338.91 L307.67 340.12 L308 341.34 L308.34 342.56 L308.69 343.77 L309.04 344.99 L309.42 346.2 L309.79 347.42 L310.16 348.64 L310.53 349.85 L310.88 351.07 L311.21 352.29 L311.55 353.5 L311.89 354.72 L312.21 355.93 L312.52 357.15 L312.8 358.37 L313.03 359.58 L313.23 360.8 L313.42 362.01 L313.61 363.23 L313.78 364.45 L313.91 365.66 L314.01 366.88 L314.05 368.1 L314.05 369.31 L314.05 370.53 L314.05 371.74 L314.05 372.96 L314.05 374.18 L314.05 375.39 L314.05 376.61 L314.02 377.83 L313.93 379.04 L313.8 380.26 L313.64 381.47 L313.45 382.69 L313.26 383.91 L313.08 385.12 L312.89 386.34 L312.68 387.55 L312.45 388.77 L312.21 389.99 L311.95 391.2 L311.69 392.42 L311.43 393.64 L311.16 394.85 L310.88 396.07 L310.59 397.28 L310.29 398.5 L309.96 399.72 L309.63 400.93 L309.26 402.15 L308.86 403.37 L308.43 404.58 L307.97 405.8 L307.49 407.01 L307 408.23 L306.52 409.45 L306.03 410.66 L305.53 411.88 L305.04 413.1 L304.55 414.31 L304.06 415.53 L303.58 416.74 L303.11 417.96 L302.65 419.18 L302.21 420.39 L301.8 421.61 L301.4 422.82 L301.02 424.04 L300.65 425.26 L300.29 426.47 L299.95 427.69 L299.61 428.91 L299.28 430.12 L298.96 431.34 L298.65 432.55 L298.34 433.77 L298.05 434.99 L297.76 436.2 L297.49 437.42 L297.23 438.64 L296.97 439.85 L296.72 441.07 L296.47 442.28 L296.23 443.5 L291.97 443.5 L291.73 442.28 L291.48 441.07 L291.23 439.85 L290.97 438.64 L290.71 437.42 L290.44 436.2 L290.15 434.99 L289.86 433.77 L289.55 432.55 L289.24 431.34 L288.92 430.12 L288.59 428.91 L288.25 427.69 L287.91 426.47 L287.55 425.26 L287.18 424.04 L286.8 422.82 L286.4 421.61 L285.99 420.39 L285.55 419.18 L285.09 417.96 L284.62 416.74 L284.14 415.53 L283.65 414.31 L283.16 413.1 L282.67 411.88 L282.17 410.66 L281.68 409.45 L281.2 408.23 L280.71 407.01 L280.23 405.8 L279.77 404.58 L279.34 403.37 L278.94 402.15 L278.57 400.93 L278.24 399.72 L277.91 398.5 L277.61 397.28 L277.32 396.07 L277.04 394.85 L276.77 393.64 L276.51 392.42 L276.25 391.2 L275.99 389.99 L275.75 388.77 L275.52 387.55 L275.31 386.34 L275.12 385.12 L274.94 383.91 L274.75 382.69 L274.56 381.47 L274.4 380.26 L274.27 379.04 L274.18 377.83 L274.15 376.61 L274.15 375.39 L274.15 374.18 L274.15 372.96 L274.15 371.74 L274.15 370.53 L274.15 369.31 L274.15 368.1 L274.19 366.88 L274.29 365.66 L274.42 364.45 L274.59 363.23 L274.78 362.01 L274.97 360.8 L275.17 359.58 L275.4 358.37 L275.68 357.15 L275.99 355.93 L276.31 354.72 L276.65 353.5 L276.99 352.29 L277.32 351.07 L277.67 349.85 L278.04 348.64 L278.41 347.42 L278.78 346.2 L279.16 344.99 L279.51 343.77 L279.86 342.56 L280.2 341.34 L280.53 340.12 L280.85 338.91 L281.18 337.69 L281.5 336.47 L281.83 335.26 L282.16 334.04 L282.5 332.83 L282.83 331.61 L283.16 330.39 L283.5 329.18 L283.82 327.96 L284.14 326.75 L284.45 325.53 L284.75 324.31 L285.05 323.1 L285.34 321.88 L285.63 320.66 L285.92 319.45 L286.22 318.23 L286.51 317.02 L286.8 315.8 L287.1 314.58 L287.39 313.37 L287.68 312.15 L287.97 310.93 L288.27 309.72 L288.57 308.5 L288.87 307.29 L289.17 306.07 L289.47 304.85 L289.76 303.64 L290.04 302.42 L290.31 301.2 L290.57 299.99 L290.81 298.77 L291.06 297.56 L291.29 296.34 L291.5 295.12 L291.7 293.91 L291.87 292.69 L292.03 291.48 L292.18 290.26 L292.32 289.04 L292.45 287.83 L292.57 286.61 L292.68 285.39 L292.78 284.18 L292.88 282.96 L292.98 281.75 L293.07 280.53 L293.16 279.31 L293.25 278.1 L293.33 276.88 L293.4 275.66 L293.47 274.45 L293.53 273.23 L293.59 272.02 L293.64 270.8 Z" fill="#e37d7c" stroke="#262626" stroke-width="0.7" stroke-linejoin="round"/>
<line x1="294.1" y1="270.8" x2="294.1" y2="443.5" stroke="#2a2a2a" stroke-width="0.9"/>
<rect x="292.7" y="349.2" width="2.8" height="45.8" fill="#000"/>
<circle cx="294.1" cy="372" r="2" fill="#fff"/>
<line x1="274" y1="450.5" x2="314.2" y2="450.5" stroke="#111" stroke-width="1.7"/>
<path d="M345.99 297 L346 298.21 L346.04 299.43 L346.11 300.64 L346.19 301.86 L346.29 303.07 L346.41 304.29 L346.54 305.5 L346.68 306.72 L346.83 307.93 L346.99 309.15 L347.15 310.36 L347.36 311.58 L347.62 312.79 L347.91 314.01 L348.23 315.22 L348.58 316.44 L348.92 317.65 L349.25 318.87 L349.57 320.08 L349.9 321.3 L350.23 322.51 L350.57 323.72 L350.91 324.94 L351.25 326.15 L351.59 327.37 L351.94 328.58 L352.3 329.8 L352.65 331.01 L353.01 332.23 L353.36 333.44 L353.7 334.66 L354.05 335.87 L354.4 337.09 L354.76 338.3 L355.11 339.52 L355.44 340.73 L355.73 341.95 L355.98 343.16 L356.18 344.38 L356.35 345.59 L356.5 346.8 L356.64 348.02 L356.78 349.23 L356.93 350.45 L357.09 351.66 L357.28 352.88 L357.47 354.09 L357.67 355.31 L357.88 356.52 L358.1 357.74 L358.31 358.95 L358.53 360.17 L358.75 361.38 L358.98 362.6 L359.21 363.81 L359.44 365.03 L359.68 366.24 L359.93 367.46 L360.18 368.67 L360.45 369.89 L360.73 371.1 L361.01 372.31 L361.3 373.53 L361.58 374.74 L361.85 375.96 L362.1 377.17 L362.35 378.39 L362.6 379.6 L362.85 380.82 L363.07 382.03 L363.27 383.25 L363.44 384.46 L363.57 385.68 L363.68 386.89 L363.77 388.11 L363.86 389.32 L363.94 390.54 L364.01 391.75 L364.08 392.97 L364.15 394.18 L364.23 395.4 L364.31 396.61 L364.38 397.82 L364.44 399.04 L364.48 400.25 L364.5 401.47 L364.49 402.68 L364.45 403.9 L364.38 405.11 L364.28 406.33 L364.17 407.54 L364.04 408.76 L363.9 409.97 L363.67 411.19 L363.37 412.4 L363.11 413.62 L362.87 414.83 L362.64 416.05 L362.41 417.26 L362.17 418.48 L361.91 419.69 L361.62 420.9 L361.3 422.12 L360.95 423.33 L360.57 424.55 L360.17 425.76 L359.74 426.98 L359.31 428.19 L358.86 429.41 L358.39 430.62 L357.9 431.84 L357.38 433.05 L356.84 434.27 L356.3 435.48 L355.75 436.7 L355.21 437.91 L354.66 439.13 L354.1 440.34 L353.54 441.56 L352.96 442.77 L352.39 443.99 L351.8 445.2 L337.4 445.2 L336.81 443.99 L336.24 442.77 L335.66 441.56 L335.1 440.34 L334.54 439.13 L333.99 437.91 L333.45 436.7 L332.9 435.48 L332.36 434.27 L331.82 433.05 L331.3 431.84 L330.81 430.62 L330.34 429.41 L329.89 428.19 L329.46 426.98 L329.03 425.76 L328.63 424.55 L328.25 423.33 L327.9 422.12 L327.58 420.9 L327.29 419.69 L327.03 418.48 L326.79 417.26 L326.56 416.05 L326.33 414.83 L326.09 413.62 L325.83 412.4 L325.53 411.19 L325.3 409.97 L325.16 408.76 L325.03 407.54 L324.92 406.33 L324.82 405.11 L324.75 403.9 L324.71 402.68 L324.7 401.47 L324.72 400.25 L324.76 399.04 L324.82 397.82 L324.89 396.61 L324.97 395.4 L325.05 394.18 L325.12 392.97 L325.19 391.75 L325.26 390.54 L325.34 389.32 L325.43 388.11 L325.52 386.89 L325.63 385.68 L325.76 384.46 L325.93 383.25 L326.13 382.03 L326.35 380.82 L326.6 379.6 L326.85 378.39 L327.1 377.17 L327.35 375.96 L327.62 374.74 L327.9 373.53 L328.19 372.31 L328.47 371.1 L328.75 369.89 L329.02 368.67 L329.27 367.46 L329.52 366.24 L329.76 365.03 L329.99 363.81 L330.22 362.6 L330.45 361.38 L330.67 360.17 L330.89 358.95 L331.1 357.74 L331.32 356.52 L331.53 355.31 L331.73 354.09 L331.92 352.88 L332.11 351.66 L332.27 350.45 L332.42 349.23 L332.56 348.02 L332.7 346.8 L332.85 345.59 L333.02 344.38 L333.22 343.16 L333.47 341.95 L333.76 340.73 L334.09 339.52 L334.44 338.3 L334.8 337.09 L335.15 335.87 L335.5 334.66 L335.84 333.44 L336.19 332.23 L336.55 331.01 L336.9 329.8 L337.26 328.58 L337.61 327.37 L337.95 326.15 L338.29 324.94 L338.63 323.72 L338.97 322.51 L339.3 321.3 L339.63 320.08 L339.95 318.87 L340.28 317.65 L340.62 316.44 L340.97 315.22 L341.29 314.01 L341.58 312.79 L341.84 311.58 L342.05 310.36 L342.21 309.15 L342.37 307.93 L342.52 306.72 L342.66 305.5 L342.79 304.29 L342.91 303.07 L343.01 301.86 L343.09 300.64 L343.16 299.43 L343.2 298.21 L343.21 297 Z" fill="#e37d7c" stroke="#262626" stroke-width="0.7" stroke-linejoin="round"/>
<line x1="344.6" y1="297" x2="344.6" y2="445.2" stroke="#2a2a2a" stroke-width="0.9"/>
<rect x="343.2" y="363.3" width="2.8" height="49.9" fill="#000"/>
<circle cx="344.6" cy="390.8" r="2" fill="#fff"/>
<line x1="324.5" y1="450.5" x2="364.2" y2="450.5" stroke="#111" stroke-width="1.7"/>
<path d="M395.25 288 L395.27 289.21 L395.29 290.43 L395.34 291.64 L395.39 292.85 L395.46 294.07 L395.53 295.28 L395.61 296.49 L395.7 297.7 L395.83 298.92 L395.99 300.13 L396.17 301.34 L396.37 302.56 L396.57 303.77 L396.78 304.98 L396.99 306.2 L397.23 307.41 L397.48 308.62 L397.75 309.84 L398.03 311.05 L398.33 312.26 L398.65 313.48 L398.99 314.69 L399.35 315.9 L399.73 317.11 L400.13 318.33 L400.54 319.54 L400.96 320.75 L401.4 321.97 L401.85 323.18 L402.32 324.39 L402.8 325.61 L403.3 326.82 L403.81 328.03 L404.33 329.25 L404.85 330.46 L405.39 331.67 L405.94 332.89 L406.51 334.1 L407.07 335.31 L407.62 336.52 L408.16 337.74 L408.67 338.95 L409.19 340.16 L409.7 341.38 L410.2 342.59 L410.68 343.8 L411.13 345.02 L411.55 346.23 L411.93 347.44 L412.31 348.66 L412.67 349.87 L413.01 351.08 L413.32 352.3 L413.6 353.51 L413.85 354.72 L414.07 355.93 L414.3 357.15 L414.49 358.36 L414.59 359.57 L414.56 360.79 L414.39 362 L414.13 363.21 L413.83 364.43 L413.55 365.64 L413.22 366.85 L412.86 368.07 L412.47 369.28 L412.08 370.49 L411.7 371.7 L411.33 372.92 L410.96 374.13 L410.58 375.34 L410.21 376.56 L409.83 377.77 L409.46 378.98 L409.09 380.2 L408.72 381.41 L408.34 382.62 L407.96 383.84 L407.58 385.05 L407.22 386.26 L406.87 387.48 L406.55 388.69 L406.24 389.9 L405.94 391.11 L405.65 392.33 L405.36 393.54 L405.09 394.75 L404.81 395.97 L404.54 397.18 L404.28 398.39 L404.02 399.61 L403.76 400.82 L403.51 402.03 L403.26 403.25 L403.01 404.46 L402.76 405.67 L402.51 406.89 L402.26 408.1 L402.01 409.31 L401.76 410.52 L401.51 411.74 L401.27 412.95 L401.03 414.16 L400.8 415.38 L400.57 416.59 L400.34 417.8 L400.12 419.02 L399.89 420.23 L399.65 421.44 L399.41 422.66 L399.16 423.87 L398.9 425.08 L398.64 426.3 L398.39 427.51 L398.16 428.72 L397.95 429.93 L397.75 431.15 L397.55 432.36 L397.37 433.57 L397.19 434.79 L397.01 436 L392.39 436 L392.21 434.79 L392.03 433.57 L391.85 432.36 L391.65 431.15 L391.45 429.93 L391.24 428.72 L391.01 427.51 L390.76 426.3 L390.5 425.08 L390.24 423.87 L389.99 422.66 L389.75 421.44 L389.51 420.23 L389.28 419.02 L389.06 417.8 L388.83 416.59 L388.6 415.38 L388.37 414.16 L388.13 412.95 L387.89 411.74 L387.64 410.52 L387.39 409.31 L387.14 408.1 L386.89 406.89 L386.64 405.67 L386.39 404.46 L386.14 403.25 L385.89 402.03 L385.64 400.82 L385.38 399.61 L385.12 398.39 L384.86 397.18 L384.59 395.97 L384.31 394.75 L384.04 393.54 L383.75 392.33 L383.46 391.11 L383.16 389.9 L382.85 388.69 L382.53 387.48 L382.18 386.26 L381.82 385.05 L381.44 383.84 L381.06 382.62 L380.68 381.41 L380.31 380.2 L379.94 378.98 L379.57 377.77 L379.19 376.56 L378.82 375.34 L378.44 374.13 L378.07 372.92 L377.7 371.7 L377.32 370.49 L376.93 369.28 L376.54 368.07 L376.18 366.85 L375.85 365.64 L375.57 364.43 L375.27 363.21 L375.01 362 L374.84 360.79 L374.81 359.57 L374.91 358.36 L375.1 357.15 L375.33 355.93 L375.55 354.72 L375.8 353.51 L376.08 352.3 L376.39 351.08 L376.73 349.87 L377.09 348.66 L377.47 347.44 L377.85 346.23 L378.27 345.02 L378.72 343.8 L379.2 342.59 L379.7 341.38 L380.21 340.16 L380.73 338.95 L381.24 337.74 L381.78 336.52 L382.33 335.31 L382.89 334.1 L383.46 332.89 L384.01 331.67 L384.55 330.46 L385.07 329.25 L385.59 328.03 L386.1 326.82 L386.6 325.61 L387.08 324.39 L387.55 323.18 L388 321.97 L388.44 320.75 L388.86 319.54 L389.27 318.33 L389.67 317.11 L390.05 315.9 L390.41 314.69 L390.75 313.48 L391.07 312.26 L391.37 311.05 L391.65 309.84 L391.92 308.62 L392.17 307.41 L392.41 306.2 L392.62 304.98 L392.83 303.77 L393.03 302.56 L393.23 301.34 L393.41 300.13 L393.57 298.92 L393.7 297.7 L393.79 296.49 L393.87 295.28 L393.94 294.07 L394.01 292.85 L394.06 291.64 L394.11 290.43 L394.13 289.21 L394.14 288 Z" fill="#e37d7c" stroke="#262626" stroke-width="0.7" stroke-linejoin="round"/>
<line x1="394.7" y1="288" x2="394.7" y2="436" stroke="#2a2a2a" stroke-width="0.9"/>
<rect x="393.3" y="350.8" width="2.8" height="36.7" fill="#000"/>
<circle cx="394.7" cy="365.5" r="2" fill="#fff"/>
<path d="M447.31 303.3 L447.32 304.51 L447.33 305.72 L447.34 306.93 L447.36 308.15 L447.39 309.36 L447.42 310.57 L447.45 311.78 L447.49 312.99 L447.54 314.2 L447.64 315.42 L447.79 316.63 L447.96 317.84 L448.15 319.05 L448.36 320.26 L448.57 321.47 L448.8 322.69 L449.07 323.9 L449.38 325.11 L449.72 326.32 L450.07 327.53 L450.43 328.74 L450.79 329.96 L451.15 331.17 L451.54 332.38 L451.94 333.59 L452.35 334.8 L452.78 336.01 L453.21 337.23 L453.65 338.44 L454.11 339.65 L454.58 340.86 L455.07 342.07 L455.56 343.28 L456.06 344.49 L456.55 345.71 L457.04 346.92 L457.51 348.13 L457.99 349.34 L458.46 350.55 L458.94 351.76 L459.41 352.98 L459.88 354.19 L460.36 355.4 L460.87 356.61 L461.4 357.82 L461.93 359.03 L462.43 360.25 L462.89 361.46 L463.28 362.67 L463.59 363.88 L463.87 365.09 L464.13 366.3 L464.36 367.52 L464.57 368.73 L464.74 369.94 L464.89 371.15 L465.02 372.36 L465.13 373.57 L465.23 374.78 L465.29 376 L465.29 377.21 L465.22 378.42 L465.09 379.63 L464.9 380.84 L464.69 382.05 L464.47 383.27 L464.25 384.48 L463.99 385.69 L463.69 386.9 L463.35 388.11 L462.98 389.32 L462.55 390.54 L462.08 391.75 L461.59 392.96 L461.09 394.17 L460.6 395.38 L460.14 396.59 L459.7 397.81 L459.27 399.02 L458.84 400.23 L458.42 401.44 L458 402.65 L457.59 403.86 L457.17 405.07 L456.76 406.29 L456.36 407.5 L455.95 408.71 L455.55 409.92 L455.15 411.13 L454.76 412.34 L454.37 413.56 L453.98 414.77 L453.59 415.98 L453.2 417.19 L452.81 418.4 L452.43 419.61 L452.06 420.83 L451.7 422.04 L451.34 423.25 L450.98 424.46 L450.63 425.67 L450.28 426.88 L449.95 428.1 L449.63 429.31 L449.32 430.52 L449.02 431.73 L448.73 432.94 L448.46 434.15 L448.21 435.37 L447.96 436.58 L447.73 437.79 L447.5 439 L442.5 439 L442.27 437.79 L442.04 436.58 L441.79 435.37 L441.54 434.15 L441.27 432.94 L440.98 431.73 L440.68 430.52 L440.37 429.31 L440.05 428.1 L439.72 426.88 L439.37 425.67 L439.02 424.46 L438.66 423.25 L438.3 422.04 L437.94 420.83 L437.57 419.61 L437.19 418.4 L436.8 417.19 L436.41 415.98 L436.02 414.77 L435.63 413.56 L435.24 412.34 L434.85 411.13 L434.45 409.92 L434.05 408.71 L433.64 407.5 L433.24 406.29 L432.83 405.07 L432.41 403.86 L432 402.65 L431.58 401.44 L431.16 400.23 L430.73 399.02 L430.3 397.81 L429.86 396.59 L429.4 395.38 L428.91 394.17 L428.41 392.96 L427.92 391.75 L427.45 390.54 L427.02 389.32 L426.65 388.11 L426.31 386.9 L426.01 385.69 L425.75 384.48 L425.53 383.27 L425.31 382.05 L425.1 380.84 L424.91 379.63 L424.78 378.42 L424.71 377.21 L424.71 376 L424.77 374.78 L424.87 373.57 L424.98 372.36 L425.11 371.15 L425.26 369.94 L425.43 368.73 L425.64 367.52 L425.87 366.3 L426.13 365.09 L426.41 363.88 L426.72 362.67 L427.11 361.46 L427.57 360.25 L428.07 359.03 L428.6 357.82 L429.13 356.61 L429.64 355.4 L430.12 354.19 L430.59 352.98 L431.06 351.76 L431.54 350.55 L432.01 349.34 L432.49 348.13 L432.96 346.92 L433.45 345.71 L433.94 344.49 L434.44 343.28 L434.93 342.07 L435.42 340.86 L435.89 339.65 L436.35 338.44 L436.79 337.23 L437.22 336.01 L437.65 334.8 L438.06 333.59 L438.46 332.38 L438.85 331.17 L439.21 329.96 L439.57 328.74 L439.93 327.53 L440.28 326.32 L440.62 325.11 L440.93 323.9 L441.2 322.69 L441.43 321.47 L441.64 320.26 L441.85 319.05 L442.04 317.84 L442.21 316.63 L442.36 315.42 L442.46 314.2 L442.51 312.99 L442.55 311.78 L442.58 310.57 L442.61 309.36 L442.64 308.15 L442.66 306.93 L442.67 305.72 L442.68 304.51 L442.69 303.3 Z" fill="#e37d7c" stroke="#262626" stroke-width="0.7" stroke-linejoin="round"/>
<line x1="445" y1="303.3" x2="445" y2="439" stroke="#2a2a2a" stroke-width="0.9"/>
<rect x="443.6" y="357.5" width="2.8" height="35.8" fill="#000"/>
<circle cx="445" cy="377.8" r="2" fill="#fff"/>
<rect x="260.8" y="245.3" width="217.5" height="208.3" fill="none" stroke="#1c1c1c" stroke-width="1.15"/>
<line x1="256.6" y1="246.3" x2="260.8" y2="246.3" stroke="#4a4a4a" stroke-width="1"/>
<text transform="translate(250.2 246.3) scale(0.8 1) rotate(-90)" text-anchor="middle" font-size="9" fill="#000" stroke="#000" stroke-width="0.16">8</text>
<line x1="256.6" y1="297.3" x2="260.8" y2="297.3" stroke="#4a4a4a" stroke-width="1"/>
<text transform="translate(250.2 297.3) scale(0.8 1) rotate(-90)" text-anchor="middle" font-size="9" fill="#000" stroke="#000" stroke-width="0.16">6</text>
<line x1="256.6" y1="348.3" x2="260.8" y2="348.3" stroke="#4a4a4a" stroke-width="1"/>
<text transform="translate(250.2 348.3) scale(0.8 1) rotate(-90)" text-anchor="middle" font-size="9" fill="#000" stroke="#000" stroke-width="0.16">4</text>
<line x1="256.6" y1="399.3" x2="260.8" y2="399.3" stroke="#4a4a4a" stroke-width="1"/>
<text transform="translate(250.2 399.3) scale(0.8 1) rotate(-90)" text-anchor="middle" font-size="9" fill="#000" stroke="#000" stroke-width="0.16">2</text>
<line x1="256.6" y1="450.3" x2="260.8" y2="450.3" stroke="#4a4a4a" stroke-width="1"/>
<text transform="translate(250.2 450.3) scale(0.8 1) rotate(-90)" text-anchor="middle" font-size="9" fill="#000" stroke="#000" stroke-width="0.16">0</text>
<line x1="294.1" y1="453.6" x2="294.1" y2="458.6" stroke="#4a4a4a" stroke-width="1"/>
<text transform="translate(294.1 472.3) scale(0.75 1)" text-anchor="middle" font-size="9.7" fill="#000" stroke="#000" stroke-width="0.16">Stage I</text>
<line x1="344.6" y1="453.6" x2="344.6" y2="458.6" stroke="#4a4a4a" stroke-width="1"/>
<text transform="translate(344.9 472.3) scale(0.75 1)" text-anchor="middle" font-size="9.7" fill="#000" stroke="#000" stroke-width="0.16">Stage II</text>
<line x1="394.7" y1="453.6" x2="394.7" y2="458.6" stroke="#4a4a4a" stroke-width="1"/>
<text transform="translate(395 472.3) scale(0.75 1)" text-anchor="middle" font-size="9.7" fill="#000" stroke="#000" stroke-width="0.16">Stage III</text>
<line x1="445" y1="453.6" x2="445" y2="458.6" stroke="#4a4a4a" stroke-width="1"/>
<text transform="translate(445.15 472.3) scale(0.75 1)" text-anchor="middle" font-size="9.7" fill="#000" stroke="#000" stroke-width="0.16">Stage IV</text>
<text transform="translate(269.8 267.6) scale(0.98 1.03)" font-size="22.1" font-weight="bold" fill="#000" stroke="#000" stroke-width="0.35">THCA</text>
<text transform="translate(465.3 256.1) scale(0.84 1)" text-anchor="end" font-size="9.3" fill="#000" stroke="#000" stroke-width="0.16">F value = 4.82</text>
<text transform="translate(465.3 267.3) scale(0.84 1)" text-anchor="end" font-size="9.3" fill="#000" stroke="#000" stroke-width="0.16">Pr(&gt;F) = 0.00257</text>
</g>
<g>
<path d="M529.94 270 L529.89 271.22 L529.84 272.43 L529.79 273.65 L529.74 274.86 L529.69 276.08 L529.65 277.29 L529.63 278.51 L529.62 279.72 L529.62 280.94 L529.62 282.15 L529.62 283.37 L529.62 284.58 L529.62 285.8 L529.62 287.01 L529.62 288.23 L529.62 289.44 L529.62 290.66 L529.62 291.88 L529.62 293.09 L529.62 294.31 L529.62 295.52 L529.62 296.74 L529.62 297.95 L529.62 299.17 L529.62 300.38 L529.62 301.6 L529.62 302.81 L529.62 304.03 L529.63 305.24 L529.63 306.46 L529.63 307.67 L529.63 308.89 L529.63 310.1 L529.63 311.32 L529.63 312.53 L529.63 313.75 L529.64 314.97 L529.64 316.18 L529.64 317.4 L529.64 318.61 L529.64 319.83 L529.64 321.04 L529.65 322.26 L529.65 323.47 L529.65 324.69 L529.65 325.9 L529.65 327.12 L529.66 328.33 L529.66 329.55 L529.66 330.76 L529.66 331.98 L529.67 333.19 L529.69 334.41 L529.71 335.62 L529.73 336.84 L529.77 338.06 L529.81 339.27 L529.85 340.49 L529.9 341.7 L529.95 342.92 L530 344.13 L530.06 345.35 L530.12 346.56 L530.19 347.78 L530.26 348.99 L530.35 350.21 L530.47 351.42 L530.61 352.64 L530.76 353.85 L530.92 355.07 L531.09 356.28 L531.26 357.5 L531.46 358.72 L531.68 359.93 L531.92 361.15 L532.16 362.36 L532.4 363.58 L532.63 364.79 L532.85 366.01 L533.08 367.22 L533.32 368.44 L533.55 369.65 L533.79 370.87 L534.04 372.08 L534.3 373.3 L534.57 374.51 L534.85 375.73 L535.13 376.94 L535.42 378.16 L535.72 379.38 L536.02 380.59 L536.33 381.81 L536.63 383.02 L536.94 384.24 L537.26 385.45 L537.58 386.67 L537.9 387.88 L538.24 389.1 L538.59 390.31 L538.95 391.53 L539.32 392.74 L539.7 393.96 L540.09 395.17 L540.49 396.39 L540.91 397.6 L541.34 398.82 L541.81 400.03 L542.31 401.25 L542.82 402.47 L543.33 403.68 L543.83 404.9 L544.29 406.11 L544.72 407.33 L545.13 408.54 L545.55 409.76 L545.94 410.97 L546.31 412.19 L546.64 413.4 L546.92 414.62 L547.17 415.83 L547.42 417.05 L547.65 418.26 L547.84 419.48 L547.96 420.69 L548 421.91 L547.96 423.12 L547.86 424.34 L547.72 425.56 L547.55 426.77 L547.35 427.99 L547.1 429.2 L546.69 430.42 L546.17 431.63 L545.58 432.85 L544.97 434.06 L544.36 435.28 L543.73 436.49 L543.04 437.71 L542.31 438.92 L541.56 440.14 L540.78 441.35 L539.96 442.57 L539.1 443.78 L538.2 445 L520.2 445 L519.3 443.78 L518.44 442.57 L517.62 441.35 L516.84 440.14 L516.09 438.92 L515.36 437.71 L514.67 436.49 L514.04 435.28 L513.43 434.06 L512.82 432.85 L512.23 431.63 L511.71 430.42 L511.3 429.2 L511.05 427.99 L510.85 426.77 L510.68 425.56 L510.54 424.34 L510.44 423.12 L510.4 421.91 L510.44 420.69 L510.56 419.48 L510.75 418.26 L510.98 417.05 L511.23 415.83 L511.48 414.62 L511.76 413.4 L512.09 412.19 L512.46 410.97 L512.85 409.76 L513.27 408.54 L513.68 407.33 L514.11 406.11 L514.57 404.9 L515.07 403.68 L515.58 402.47 L516.09 401.25 L516.59 400.03 L517.06 398.82 L517.49 397.6 L517.91 396.39 L518.31 395.17 L518.7 393.96 L519.08 392.74 L519.45 391.53 L519.81 390.31 L520.16 389.1 L520.5 387.88 L520.82 386.67 L521.14 385.45 L521.46 384.24 L521.77 383.02 L522.07 381.81 L522.38 380.59 L522.68 379.38 L522.98 378.16 L523.27 376.94 L523.55 375.73 L523.83 374.51 L524.1 373.3 L524.36 372.08 L524.61 370.87 L524.85 369.65 L525.08 368.44 L525.32 367.22 L525.55 366.01 L525.77 364.79 L526 363.58 L526.24 362.36 L526.48 361.15 L526.72 359.93 L526.94 358.72 L527.14 357.5 L527.31 356.28 L527.48 355.07 L527.64 353.85 L527.79 352.64 L527.93 351.42 L528.05 350.21 L528.14 348.99 L528.21 347.78 L528.28 346.56 L528.34 345.35 L528.4 344.13 L528.45 342.92 L528.5 341.7 L528.55 340.49 L528.59 339.27 L528.63 338.06 L528.67 336.84 L528.69 335.62 L528.71 334.41 L528.73 333.19 L528.74 331.98 L528.74 330.76 L528.74 329.55 L528.74 328.33 L528.75 327.12 L528.75 325.9 L528.75 324.69 L528.75 323.47 L528.75 322.26 L528.76 321.04 L528.76 319.83 L528.76 318.61 L528.76 317.4 L528.76 316.18 L528.76 314.97 L528.77 313.75 L528.77 312.53 L528.77 311.32 L528.77 310.1 L528.77 308.89 L528.77 307.67 L528.77 306.46 L528.77 305.24 L528.78 304.03 L528.78 302.81 L528.78 301.6 L528.78 300.38 L528.78 299.17 L528.78 297.95 L528.78 296.74 L528.78 295.52 L528.78 294.31 L528.78 293.09 L528.78 291.88 L528.78 290.66 L528.78 289.44 L528.78 288.23 L528.78 287.01 L528.78 285.8 L528.78 284.58 L528.78 283.37 L528.78 282.15 L528.78 280.94 L528.78 279.72 L528.77 278.51 L528.75 277.29 L528.71 276.08 L528.66 274.86 L528.61 273.65 L528.56 272.43 L528.51 271.22 L528.46 270 Z" fill="#e37d7c" stroke="#262626" stroke-width="0.7" stroke-linejoin="round"/>
<line x1="529.2" y1="270" x2="529.2" y2="445" stroke="#2a2a2a" stroke-width="0.9"/>
<rect x="527.8" y="395" width="2.8" height="33.3" fill="#000"/>
<circle cx="529.2" cy="417.8" r="2" fill="#fff"/>
<line x1="509.7" y1="445.8" x2="548.5" y2="445.8" stroke="#111" stroke-width="1.8"/>
<path d="M579.09 302.2 L579.08 303.41 L579.07 304.62 L579.06 305.83 L579.04 307.04 L579.02 308.25 L579.01 309.46 L578.99 310.67 L578.97 311.88 L578.94 313.09 L578.92 314.3 L578.9 315.51 L578.87 316.72 L578.83 317.93 L578.79 319.14 L578.75 320.35 L578.71 321.56 L578.66 322.77 L578.62 323.98 L578.57 325.19 L578.54 326.4 L578.5 327.61 L578.48 328.82 L578.46 330.03 L578.45 331.24 L578.45 332.45 L578.45 333.66 L578.45 334.87 L578.45 336.08 L578.46 337.29 L578.46 338.51 L578.47 339.72 L578.48 340.93 L578.48 342.14 L578.49 343.35 L578.5 344.56 L578.51 345.77 L578.53 346.98 L578.54 348.19 L578.56 349.4 L578.6 350.61 L578.65 351.82 L578.71 353.03 L578.78 354.24 L578.86 355.45 L578.95 356.66 L579.07 357.87 L579.22 359.08 L579.4 360.29 L579.62 361.5 L579.84 362.71 L580.08 363.92 L580.32 365.13 L580.58 366.34 L580.86 367.55 L581.17 368.76 L581.49 369.97 L581.85 371.18 L582.22 372.39 L582.59 373.6 L582.98 374.81 L583.37 376.02 L583.78 377.23 L584.2 378.44 L584.64 379.65 L585.08 380.86 L585.54 382.07 L586.03 383.28 L586.53 384.49 L587.05 385.7 L587.58 386.91 L588.1 388.12 L588.62 389.33 L589.13 390.54 L589.63 391.75 L590.15 392.96 L590.66 394.17 L591.15 395.38 L591.63 396.59 L592.08 397.8 L592.49 399.01 L592.89 400.22 L593.28 401.43 L593.65 402.64 L594.01 403.85 L594.34 405.06 L594.65 406.27 L594.94 407.48 L595.23 408.69 L595.52 409.91 L595.78 411.12 L596.02 412.33 L596.22 413.54 L596.38 414.75 L596.49 415.96 L596.59 417.17 L596.69 418.38 L596.77 419.59 L596.84 420.8 L596.88 422.01 L596.9 423.22 L596.88 424.43 L596.82 425.64 L596.72 426.85 L596.6 428.06 L596.45 429.27 L596.28 430.48 L596.1 431.69 L595.86 432.9 L595.51 434.11 L595.09 435.32 L594.62 436.53 L594.13 437.74 L593.63 438.95 L593.08 440.16 L592.47 441.37 L591.82 442.58 L591.13 443.79 L590.4 445 L565.2 445 L564.47 443.79 L563.78 442.58 L563.13 441.37 L562.52 440.16 L561.97 438.95 L561.47 437.74 L560.98 436.53 L560.51 435.32 L560.09 434.11 L559.74 432.9 L559.5 431.69 L559.32 430.48 L559.15 429.27 L559 428.06 L558.88 426.85 L558.78 425.64 L558.72 424.43 L558.7 423.22 L558.72 422.01 L558.76 420.8 L558.83 419.59 L558.91 418.38 L559.01 417.17 L559.11 415.96 L559.22 414.75 L559.38 413.54 L559.58 412.33 L559.82 411.12 L560.08 409.91 L560.37 408.69 L560.66 407.48 L560.95 406.27 L561.26 405.06 L561.59 403.85 L561.95 402.64 L562.32 401.43 L562.71 400.22 L563.11 399.01 L563.52 397.8 L563.97 396.59 L564.45 395.38 L564.94 394.17 L565.45 392.96 L565.97 391.75 L566.47 390.54 L566.98 389.33 L567.5 388.12 L568.02 386.91 L568.55 385.7 L569.07 384.49 L569.57 383.28 L570.06 382.07 L570.52 380.86 L570.96 379.65 L571.4 378.44 L571.82 377.23 L572.23 376.02 L572.62 374.81 L573.01 373.6 L573.38 372.39 L573.75 371.18 L574.11 369.97 L574.43 368.76 L574.74 367.55 L575.02 366.34 L575.28 365.13 L575.52 363.92 L575.76 362.71 L575.98 361.5 L576.2 360.29 L576.38 359.08 L576.53 357.87 L576.65 356.66 L576.74 355.45 L576.82 354.24 L576.89 353.03 L576.95 351.82 L577 350.61 L577.04 349.4 L577.06 348.19 L577.07 346.98 L577.09 345.77 L577.1 344.56 L577.11 343.35 L577.12 342.14 L577.12 340.93 L577.13 339.72 L577.14 338.51 L577.14 337.29 L577.15 336.08 L577.15 334.87 L577.15 333.66 L577.15 332.45 L577.15 331.24 L577.14 330.03 L577.12 328.82 L577.1 327.61 L577.06 326.4 L577.03 325.19 L576.98 323.98 L576.94 322.77 L576.89 321.56 L576.85 320.35 L576.81 319.14 L576.77 317.93 L576.73 316.72 L576.7 315.51 L576.68 314.3 L576.66 313.09 L576.63 311.88 L576.61 310.67 L576.59 309.46 L576.58 308.25 L576.56 307.04 L576.54 305.83 L576.53 304.62 L576.52 303.41 L576.5 302.2 Z" fill="#e37d7c" stroke="#262626" stroke-width="0.7" stroke-linejoin="round"/>
<line x1="577.8" y1="302.2" x2="577.8" y2="445" stroke="#2a2a2a" stroke-width="0.9"/>
<rect x="576.4" y="402.5" width="2.8" height="28.7" fill="#000"/>
<circle cx="577.8" cy="416.2" r="2" fill="#fff"/>
<line x1="558.3" y1="445.8" x2="597.2" y2="445.8" stroke="#111" stroke-width="1.8"/>
<path d="M627.19 344.5 L627.19 345.73 L627.19 346.96 L627.19 348.18 L627.19 349.41 L627.19 350.64 L627.19 351.87 L627.2 353.1 L627.23 354.32 L627.27 355.55 L627.32 356.78 L627.38 358.01 L627.43 359.24 L627.48 360.46 L627.53 361.69 L627.59 362.92 L627.64 364.15 L627.71 365.38 L627.77 366.6 L627.85 367.83 L627.94 369.06 L628.04 370.29 L628.15 371.52 L628.28 372.75 L628.42 373.97 L628.57 375.2 L628.72 376.43 L628.89 377.66 L629.09 378.89 L629.3 380.11 L629.53 381.34 L629.78 382.57 L630.04 383.8 L630.31 385.03 L630.57 386.25 L630.85 387.48 L631.14 388.71 L631.44 389.94 L631.75 391.17 L632.06 392.39 L632.39 393.62 L632.7 394.85 L633.02 396.08 L633.35 397.31 L633.7 398.53 L634.09 399.76 L634.52 400.99 L635.04 402.22 L635.73 403.45 L636.38 404.67 L636.95 405.9 L637.49 407.13 L638.01 408.36 L638.51 409.59 L639.02 410.81 L639.52 412.04 L640.05 413.27 L640.61 414.5 L641.18 415.73 L641.75 416.95 L642.29 418.18 L642.78 419.41 L643.2 420.64 L643.55 421.87 L643.9 423.1 L644.22 424.32 L644.49 425.55 L644.66 426.78 L644.7 428.01 L644.67 429.24 L644.6 430.46 L644.5 431.69 L644.37 432.92 L644.22 434.15 L643.97 435.38 L643.52 436.6 L642.95 437.83 L642.32 439.06 L641.66 440.29 L640.89 441.52 L640.01 442.74 L639.05 443.97 L638 445.2 L613.6 445.2 L612.55 443.97 L611.59 442.74 L610.71 441.52 L609.94 440.29 L609.28 439.06 L608.65 437.83 L608.08 436.6 L607.63 435.38 L607.38 434.15 L607.23 432.92 L607.1 431.69 L607 430.46 L606.93 429.24 L606.9 428.01 L606.94 426.78 L607.11 425.55 L607.38 424.32 L607.7 423.1 L608.05 421.87 L608.4 420.64 L608.82 419.41 L609.31 418.18 L609.85 416.95 L610.42 415.73 L610.99 414.5 L611.55 413.27 L612.08 412.04 L612.58 410.81 L613.09 409.59 L613.59 408.36 L614.11 407.13 L614.65 405.9 L615.22 404.67 L615.87 403.45 L616.56 402.22 L617.08 400.99 L617.51 399.76 L617.9 398.53 L618.25 397.31 L618.58 396.08 L618.9 394.85 L619.21 393.62 L619.54 392.39 L619.85 391.17 L620.16 389.94 L620.46 388.71 L620.75 387.48 L621.03 386.25 L621.29 385.03 L621.56 383.8 L621.82 382.57 L622.07 381.34 L622.3 380.11 L622.51 378.89 L622.71 377.66 L622.88 376.43 L623.03 375.2 L623.18 373.97 L623.32 372.75 L623.45 371.52 L623.56 370.29 L623.66 369.06 L623.75 367.83 L623.83 366.6 L623.89 365.38 L623.96 364.15 L624.01 362.92 L624.07 361.69 L624.12 360.46 L624.17 359.24 L624.22 358.01 L624.28 356.78 L624.33 355.55 L624.37 354.32 L624.4 353.1 L624.41 351.87 L624.41 350.64 L624.41 349.41 L624.41 348.18 L624.41 346.96 L624.41 345.73 L624.41 344.5 Z" fill="#e37d7c" stroke="#262626" stroke-width="0.7" stroke-linejoin="round"/>
<line x1="625.8" y1="370" x2="625.8" y2="445.2" stroke="#2a2a2a" stroke-width="0.9"/>
<rect x="624.4" y="410.2" width="2.8" height="26.3" fill="#000"/>
<circle cx="625.8" cy="428.2" r="2" fill="#fff"/>
<path d="M675.96 372.5 L675.94 373.72 L675.9 374.95 L675.86 376.17 L675.82 377.4 L675.77 378.62 L675.7 379.84 L675.62 381.07 L675.53 382.29 L675.46 383.52 L675.42 384.74 L675.39 385.97 L675.37 387.19 L675.35 388.41 L675.34 389.64 L675.33 390.86 L675.32 392.09 L675.32 393.31 L675.37 394.53 L675.5 395.76 L675.67 396.98 L675.86 398.21 L676.05 399.43 L676.29 400.66 L676.69 401.88 L677.33 403.1 L678.09 404.33 L678.92 405.55 L679.67 406.78 L680.41 408 L681.15 409.22 L681.9 410.45 L682.66 411.67 L683.42 412.9 L684.22 414.12 L685.04 415.34 L685.86 416.57 L686.68 417.79 L687.46 419.02 L688.19 420.24 L688.84 421.47 L689.48 422.69 L690.11 423.91 L690.7 425.14 L691.25 426.36 L691.74 427.59 L692.16 428.81 L692.51 430.03 L692.86 431.26 L693.12 432.48 L693.2 433.71 L693.11 434.93 L692.93 436.16 L692.67 437.38 L692.3 438.6 L691.66 439.83 L690.87 441.05 L689.86 442.28 L688.6 443.5 L660 443.5 L658.74 442.28 L657.73 441.05 L656.94 439.83 L656.3 438.6 L655.93 437.38 L655.67 436.16 L655.49 434.93 L655.4 433.71 L655.48 432.48 L655.74 431.26 L656.09 430.03 L656.44 428.81 L656.86 427.59 L657.35 426.36 L657.9 425.14 L658.49 423.91 L659.12 422.69 L659.76 421.47 L660.41 420.24 L661.14 419.02 L661.92 417.79 L662.74 416.57 L663.56 415.34 L664.38 414.12 L665.18 412.9 L665.94 411.67 L666.7 410.45 L667.45 409.22 L668.19 408 L668.93 406.78 L669.68 405.55 L670.51 404.33 L671.27 403.1 L671.91 401.88 L672.31 400.66 L672.55 399.43 L672.74 398.21 L672.93 396.98 L673.1 395.76 L673.23 394.53 L673.28 393.31 L673.28 392.09 L673.27 390.86 L673.26 389.64 L673.25 388.41 L673.23 387.19 L673.21 385.97 L673.18 384.74 L673.14 383.52 L673.07 382.29 L672.98 381.07 L672.9 379.84 L672.83 378.62 L672.78 377.4 L672.74 376.17 L672.7 374.95 L672.66 373.72 L672.63 372.5 Z" fill="#e37d7c" stroke="#262626" stroke-width="0.7" stroke-linejoin="round"/>
<line x1="674.3" y1="407.7" x2="674.3" y2="443.5" stroke="#2a2a2a" stroke-width="0.9"/>
<rect x="672.9" y="426.8" width="2.8" height="12.9" fill="#000"/>
<circle cx="674.3" cy="431" r="2" fill="#fff"/>
<rect x="497" y="245.5" width="209.2" height="207.9" fill="none" stroke="#1c1c1c" stroke-width="1.15"/>
<line x1="493" y1="293.3" x2="497" y2="293.3" stroke="#4a4a4a" stroke-width="1"/>
<text transform="translate(486.4 293.3) scale(0.77 1) rotate(-90)" text-anchor="middle" font-size="9" fill="#000" stroke="#000" stroke-width="0.16">6</text>
<line x1="493" y1="344.3" x2="497" y2="344.3" stroke="#4a4a4a" stroke-width="1"/>
<text transform="translate(486.4 344.3) scale(0.77 1) rotate(-90)" text-anchor="middle" font-size="9" fill="#000" stroke="#000" stroke-width="0.16">4</text>
<line x1="493" y1="395" x2="497" y2="395" stroke="#4a4a4a" stroke-width="1"/>
<text transform="translate(486.4 395) scale(0.77 1) rotate(-90)" text-anchor="middle" font-size="9" fill="#000" stroke="#000" stroke-width="0.16">2</text>
<line x1="493" y1="446" x2="497" y2="446" stroke="#4a4a4a" stroke-width="1"/>
<text transform="translate(486.4 446) scale(0.77 1) rotate(-90)" text-anchor="middle" font-size="9" fill="#000" stroke="#000" stroke-width="0.16">0</text>
<line x1="529.2" y1="453.4" x2="529.2" y2="458.4" stroke="#4a4a4a" stroke-width="1"/>
<text transform="translate(529.2 472.3) scale(0.73 1)" text-anchor="middle" font-size="9.7" fill="#000" stroke="#000" stroke-width="0.16">Stage I</text>
<line x1="577.8" y1="453.4" x2="577.8" y2="458.4" stroke="#4a4a4a" stroke-width="1"/>
<text transform="translate(578.1 472.3) scale(0.73 1)" text-anchor="middle" font-size="9.7" fill="#000" stroke="#000" stroke-width="0.16">Stage II</text>
<line x1="625.8" y1="453.4" x2="625.8" y2="458.4" stroke="#4a4a4a" stroke-width="1"/>
<text transform="translate(625.35 472.3) scale(0.73 1)" text-anchor="middle" font-size="9.7" fill="#000" stroke="#000" stroke-width="0.16">Stage III</text>
<line x1="674.3" y1="453.4" x2="674.3" y2="458.4" stroke="#4a4a4a" stroke-width="1"/>
<text transform="translate(674.3 472.3) scale(0.73 1)" text-anchor="middle" font-size="9.7" fill="#000" stroke="#000" stroke-width="0.16">Stage IV</text>
<text transform="translate(511 265.3) scale(0.98 1.03)" font-size="22.2" font-weight="bold" fill="#000" stroke="#000" stroke-width="0.35">KIRP</text>
<text transform="translate(694.4 256.3) scale(0.75 1)" text-anchor="end" font-size="10.2" fill="#000" stroke="#000" stroke-width="0.16">F value = 3.73</text>
<text transform="translate(694.4 267.9) scale(0.75 1)" text-anchor="end" font-size="10.2" fill="#000" stroke="#000" stroke-width="0.16">Pr(&gt;F) = 0.0119</text>
</g>
</svg>
</body>
</html>
